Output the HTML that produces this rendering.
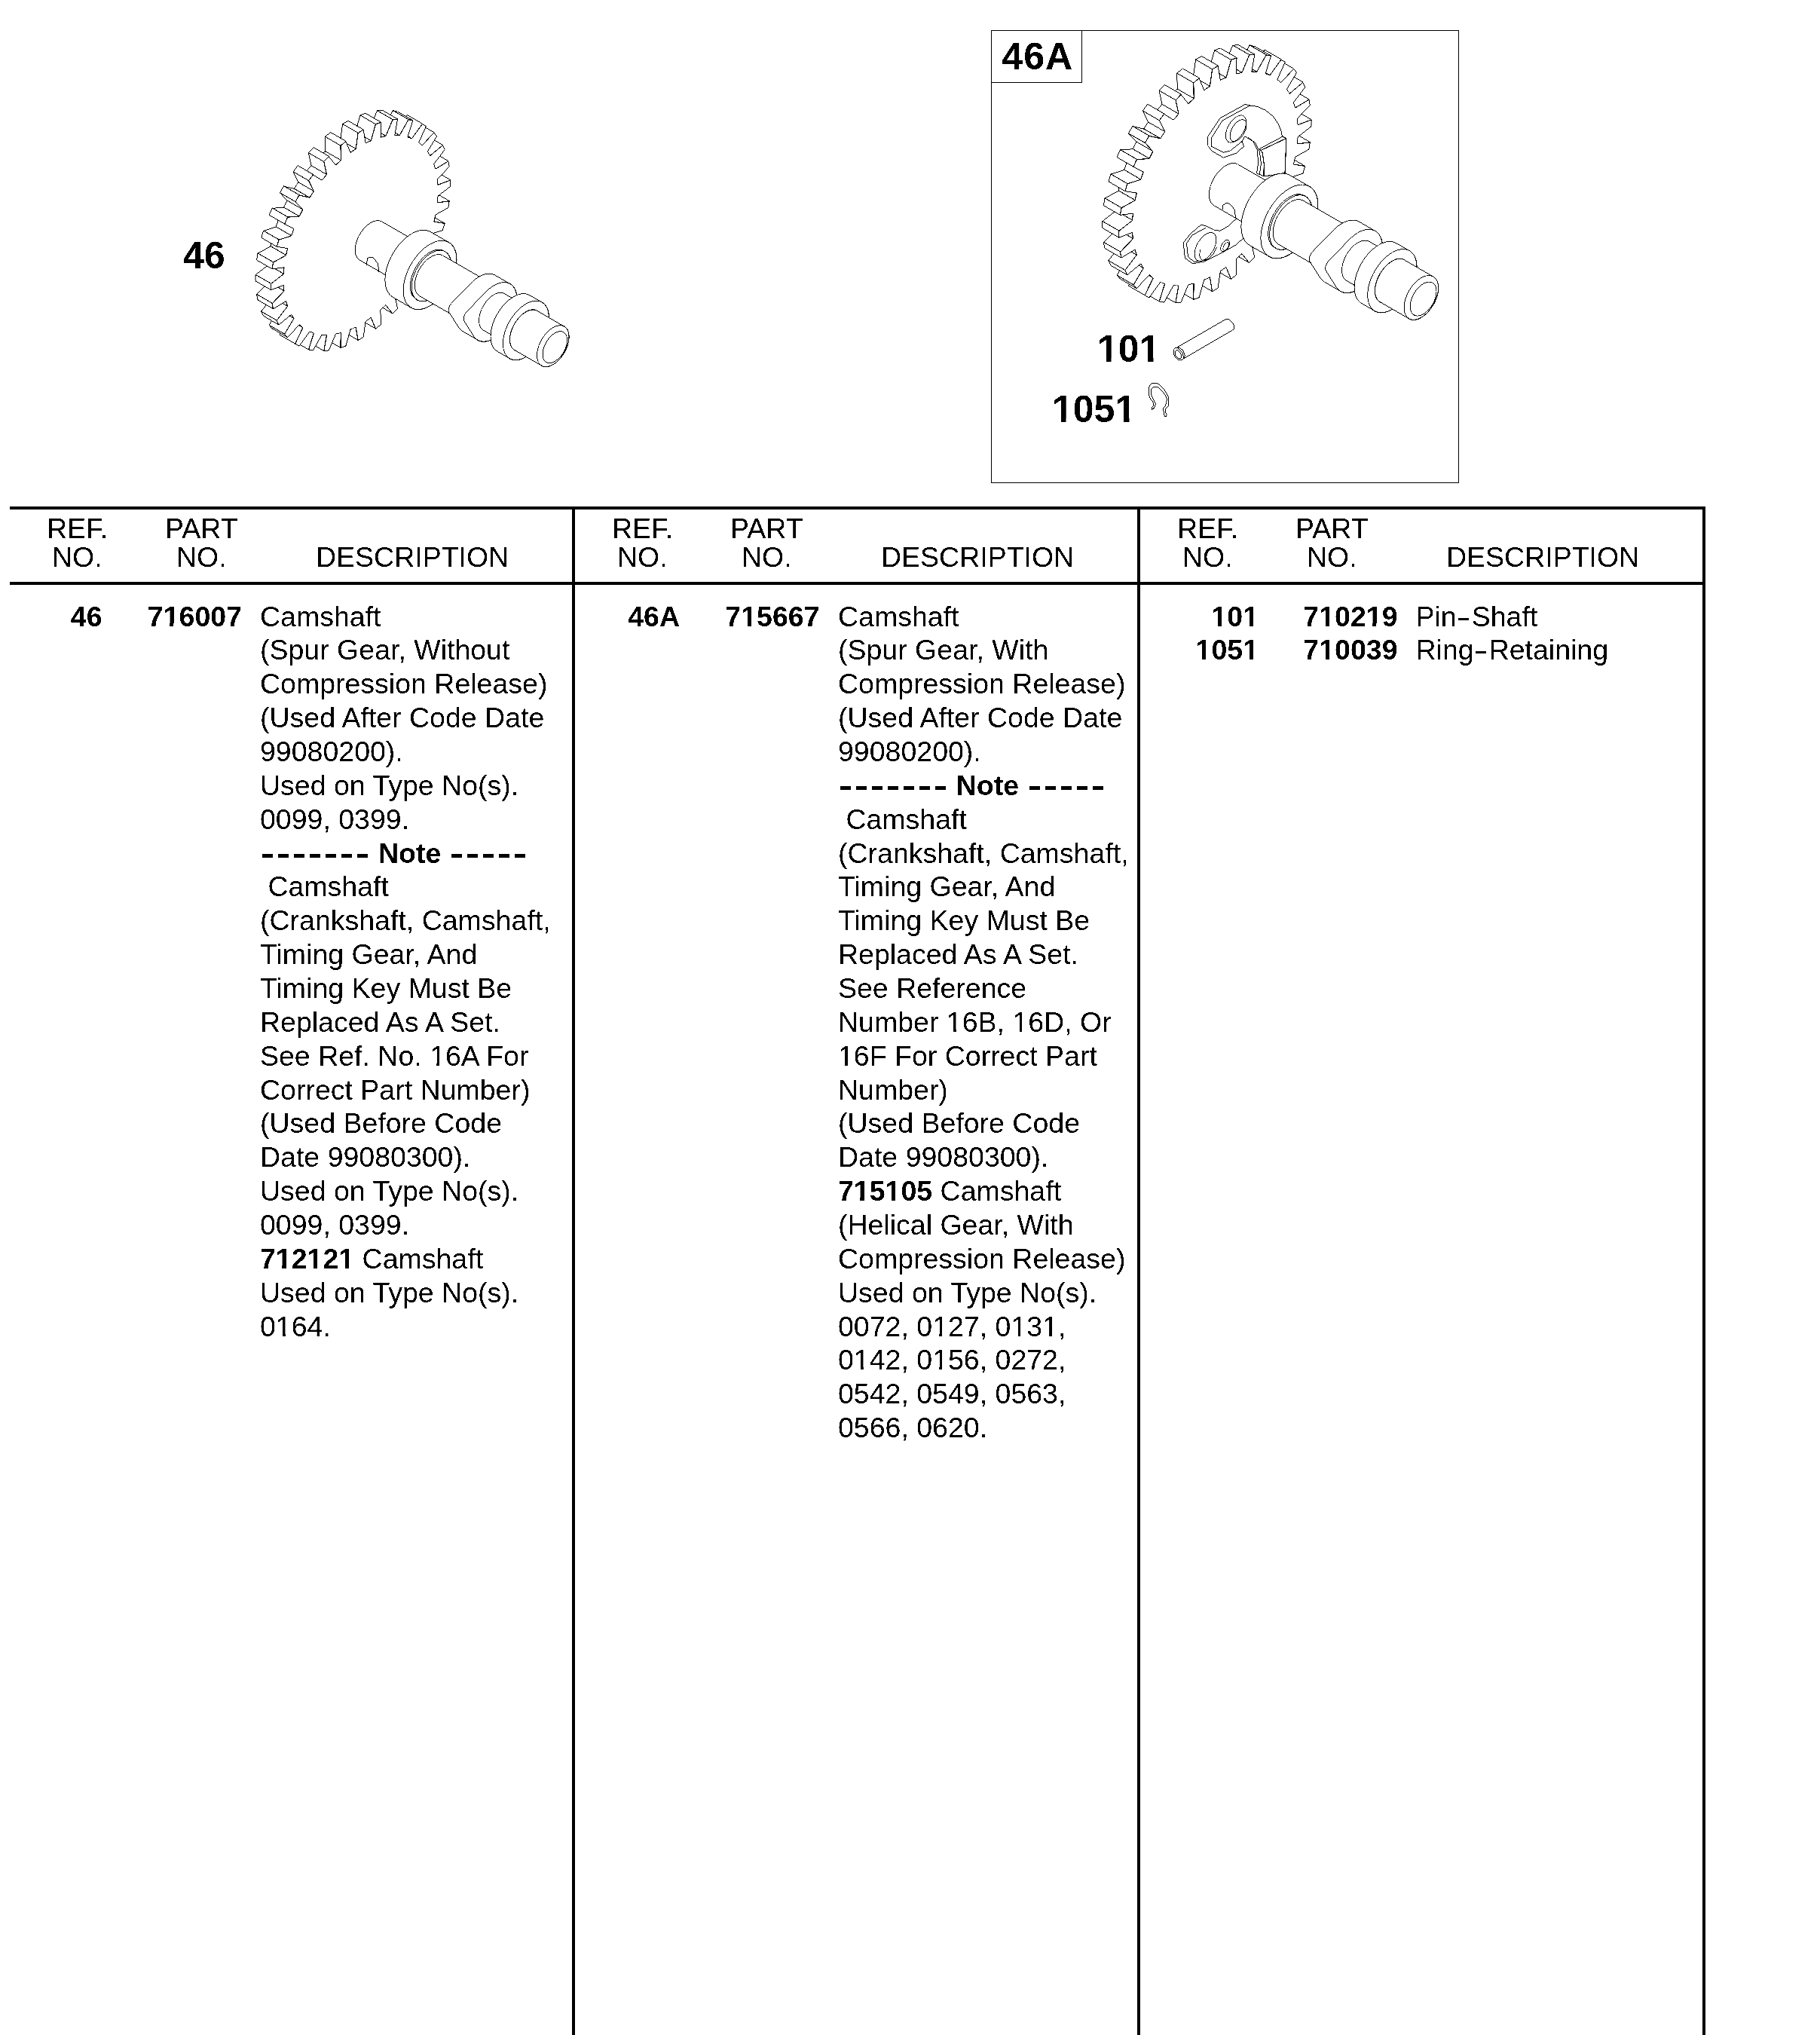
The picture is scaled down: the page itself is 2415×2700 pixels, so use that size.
<!DOCTYPE html><html><head><meta charset="utf-8"><style>
html,body{margin:0;padding:0;background:#fff;}
body{width:2415px;height:2700px;position:relative;overflow:hidden;filter:contrast(8);font-family:"Liberation Sans",sans-serif;color:#000;}
.t{position:absolute;white-space:pre;line-height:50px;height:50px;}
.r{text-align:right;}
.b{font-weight:bold;}
.k{position:absolute;background:#000;}
.o{position:relative;}
.o::after{content:"";position:absolute;left:0.055em;bottom:0.2em;width:0.193em;height:0.09em;background:#fff;box-shadow:0.288em 0 0 #fff;}
b .o::after,.b .o::after{left:0.045em;width:0.185em;height:0.12em;box-shadow:0.33em 0 0 #fff;}
</style></head><body>

<div class="t" style="left:345.00px;top:792.50px;font-size:37.5px">Camshaft</div>
<div class="t" style="left:345.00px;top:837.36px;font-size:37.5px">(Spur Gear, Without</div>
<div class="t" style="left:345.00px;top:882.21px;font-size:37.5px">Compression Release)</div>
<div class="t" style="left:345.00px;top:927.07px;font-size:37.5px">(Used After Code Date</div>
<div class="t" style="left:345.00px;top:971.93px;font-size:37.5px">99080200).</div>
<div class="t" style="left:345.00px;top:1016.79px;font-size:37.5px">Used on Type No(s).</div>
<div class="t" style="left:345.00px;top:1061.64px;font-size:37.5px">0099, 0399.</div>
<div class="t b" style="left:502.00px;top:1106.50px;font-size:37.5px">Note</div>
<div class="t" style="left:345.00px;top:1151.36px;font-size:37.5px">&nbsp;Camshaft</div>
<div class="t" style="left:345.00px;top:1196.21px;font-size:37.5px">(Crankshaft, Camshaft,</div>
<div class="t" style="left:345.00px;top:1241.07px;font-size:37.5px">Timing Gear, And</div>
<div class="t" style="left:345.00px;top:1285.93px;font-size:37.5px">Timing Key Must Be</div>
<div class="t" style="left:345.00px;top:1330.78px;font-size:37.5px">Replaced As A Set.</div>
<div class="t" style="left:345.00px;top:1375.64px;font-size:37.5px">See Ref. No. <span class="o">1</span>6A For</div>
<div class="t" style="left:345.00px;top:1420.50px;font-size:37.5px">Correct Part Number)</div>
<div class="t" style="left:345.00px;top:1465.36px;font-size:37.5px">(Used Before Code</div>
<div class="t" style="left:345.00px;top:1510.21px;font-size:37.5px">Date 99080300).</div>
<div class="t" style="left:345.00px;top:1555.07px;font-size:37.5px">Used on Type No(s).</div>
<div class="t" style="left:345.00px;top:1599.93px;font-size:37.5px">0099, 0399.</div>
<div class="t" style="left:345.00px;top:1644.78px;font-size:37.5px"><b>7<span class="o">1</span>2<span class="o">1</span>2<span class="o">1</span></b> Camshaft</div>
<div class="t" style="left:345.00px;top:1689.64px;font-size:37.5px">Used on Type No(s).</div>
<div class="t" style="left:345.00px;top:1734.50px;font-size:37.5px">0<span class="o">1</span>64.</div>
<div class="t b" style="right:2279.50px;top:792.50px;font-size:37.5px">46</div>
<div class="t b" style="right:2094.00px;top:792.50px;font-size:37.5px">7<span class="o">1</span>6007</div>
<div class="t" style="left:1112.00px;top:792.50px;font-size:37.5px">Camshaft</div>
<div class="t" style="left:1112.00px;top:837.36px;font-size:37.5px">(Spur Gear, With</div>
<div class="t" style="left:1112.00px;top:882.21px;font-size:37.5px">Compression Release)</div>
<div class="t" style="left:1112.00px;top:927.07px;font-size:37.5px">(Used After Code Date</div>
<div class="t" style="left:1112.00px;top:971.93px;font-size:37.5px">99080200).</div>
<div class="t b" style="left:1268.70px;top:1016.79px;font-size:37.5px">Note</div>
<div class="t" style="left:1112.00px;top:1061.64px;font-size:37.5px">&nbsp;Camshaft</div>
<div class="t" style="left:1112.00px;top:1106.50px;font-size:37.5px">(Crankshaft, Camshaft,</div>
<div class="t" style="left:1112.00px;top:1151.36px;font-size:37.5px">Timing Gear, And</div>
<div class="t" style="left:1112.00px;top:1196.21px;font-size:37.5px">Timing Key Must Be</div>
<div class="t" style="left:1112.00px;top:1241.07px;font-size:37.5px">Replaced As A Set.</div>
<div class="t" style="left:1112.00px;top:1285.93px;font-size:37.5px">See Reference</div>
<div class="t" style="left:1112.00px;top:1330.78px;font-size:37.5px">Number <span class="o">1</span>6B, <span class="o">1</span>6D, Or</div>
<div class="t" style="left:1112.00px;top:1375.64px;font-size:37.5px"><span class="o">1</span>6F For Correct Part</div>
<div class="t" style="left:1112.00px;top:1420.50px;font-size:37.5px">Number)</div>
<div class="t" style="left:1112.00px;top:1465.36px;font-size:37.5px">(Used Before Code</div>
<div class="t" style="left:1112.00px;top:1510.21px;font-size:37.5px">Date 99080300).</div>
<div class="t" style="left:1112.00px;top:1555.07px;font-size:37.5px"><b>7<span class="o">1</span>5<span class="o">1</span>05</b> Camshaft</div>
<div class="t" style="left:1112.00px;top:1599.93px;font-size:37.5px">(Helical Gear, With</div>
<div class="t" style="left:1112.00px;top:1644.78px;font-size:37.5px">Compression Release)</div>
<div class="t" style="left:1112.00px;top:1689.64px;font-size:37.5px">Used on Type No(s).</div>
<div class="t" style="left:1112.00px;top:1734.50px;font-size:37.5px">0072, 0<span class="o">1</span>27, 0<span class="o">1</span>3<span class="o">1</span>,</div>
<div class="t" style="left:1112.00px;top:1779.35px;font-size:37.5px">0<span class="o">1</span>42, 0<span class="o">1</span>56, 0272,</div>
<div class="t" style="left:1112.00px;top:1824.21px;font-size:37.5px">0542, 0549, 0563,</div>
<div class="t" style="left:1112.00px;top:1869.07px;font-size:37.5px">0566, 0620.</div>
<div class="t b" style="right:1513.00px;top:792.50px;font-size:37.5px">46A</div>
<div class="t b" style="right:1327.50px;top:792.50px;font-size:37.5px">7<span class="o">1</span>5667</div>
<div class="t" style="left:1878.50px;top:792.50px;font-size:37.5px">Pin<span style="display:inline-block;width:14px;height:3px;background:#000;margin:0 3.5px 0 2.5px;vertical-align:8px"></span>Shaft</div>
<div class="t" style="left:1878.50px;top:837.36px;font-size:37.5px">Ring<span style="display:inline-block;width:14px;height:3px;background:#000;margin:0 3.5px 0 2.5px;vertical-align:8px"></span>Retaining</div>
<div class="t b" style="right:745.00px;top:792.50px;font-size:37.5px"><span class="o">1</span>0<span class="o">1</span></div>
<div class="t b" style="right:560.50px;top:792.50px;font-size:37.5px">7<span class="o">1</span>02<span class="o">1</span>9</div>
<div class="t b" style="right:745.00px;top:837.36px;font-size:37.5px"><span class="o">1</span>05<span class="o">1</span></div>
<div class="t b" style="right:560.50px;top:837.36px;font-size:37.5px">7<span class="o">1</span>0039</div>
<div class="t" style="left:62.00px;top:675.50px;font-size:37.5px">REF.</div>
<div class="t" style="left:69.00px;top:713.50px;font-size:37.5px">NO.</div>
<div class="t" style="left:219.00px;top:675.50px;font-size:37.5px">PART</div>
<div class="t" style="left:234.00px;top:713.50px;font-size:37.5px">NO.</div>
<div class="t" style="left:419.00px;top:713.50px;font-size:37.5px">DESCRIPTION</div>
<div class="t" style="left:812.00px;top:675.50px;font-size:37.5px">REF.</div>
<div class="t" style="left:819.00px;top:713.50px;font-size:37.5px">NO.</div>
<div class="t" style="left:969.00px;top:675.50px;font-size:37.5px">PART</div>
<div class="t" style="left:984.00px;top:713.50px;font-size:37.5px">NO.</div>
<div class="t" style="left:1169.00px;top:713.50px;font-size:37.5px">DESCRIPTION</div>
<div class="t" style="left:1562.00px;top:675.50px;font-size:37.5px">REF.</div>
<div class="t" style="left:1569.00px;top:713.50px;font-size:37.5px">NO.</div>
<div class="t" style="left:1719.00px;top:675.50px;font-size:37.5px">PART</div>
<div class="t" style="left:1734.00px;top:713.50px;font-size:37.5px">NO.</div>
<div class="t" style="left:1919.00px;top:713.50px;font-size:37.5px">DESCRIPTION</div>
<div class="k" style="left:348.0px;top:1133.0px;width:14px;height:5px"></div>
<div class="k" style="left:369.0px;top:1133.0px;width:14px;height:5px"></div>
<div class="k" style="left:390.0px;top:1133.0px;width:14px;height:5px"></div>
<div class="k" style="left:411.0px;top:1133.0px;width:14px;height:5px"></div>
<div class="k" style="left:432.0px;top:1133.0px;width:14px;height:5px"></div>
<div class="k" style="left:453.0px;top:1133.0px;width:14px;height:5px"></div>
<div class="k" style="left:474.0px;top:1133.0px;width:14px;height:5px"></div>
<div class="k" style="left:599.0px;top:1133.0px;width:14px;height:5px"></div>
<div class="k" style="left:620.0px;top:1133.0px;width:14px;height:5px"></div>
<div class="k" style="left:641.0px;top:1133.0px;width:14px;height:5px"></div>
<div class="k" style="left:662.0px;top:1133.0px;width:14px;height:5px"></div>
<div class="k" style="left:683.0px;top:1133.0px;width:14px;height:5px"></div>
<div class="k" style="left:1115.0px;top:1043.3px;width:14px;height:5px"></div>
<div class="k" style="left:1136.0px;top:1043.3px;width:14px;height:5px"></div>
<div class="k" style="left:1157.0px;top:1043.3px;width:14px;height:5px"></div>
<div class="k" style="left:1178.0px;top:1043.3px;width:14px;height:5px"></div>
<div class="k" style="left:1199.0px;top:1043.3px;width:14px;height:5px"></div>
<div class="k" style="left:1220.0px;top:1043.3px;width:14px;height:5px"></div>
<div class="k" style="left:1241.0px;top:1043.3px;width:14px;height:5px"></div>
<div class="k" style="left:1365.7px;top:1043.3px;width:14px;height:5px"></div>
<div class="k" style="left:1386.7px;top:1043.3px;width:14px;height:5px"></div>
<div class="k" style="left:1407.7px;top:1043.3px;width:14px;height:5px"></div>
<div class="k" style="left:1428.7px;top:1043.3px;width:14px;height:5px"></div>
<div class="k" style="left:1449.7px;top:1043.3px;width:14px;height:5px"></div>
<div class="k" style="left:13px;top:672px;width:2250px;height:4px"></div>
<div class="k" style="left:13px;top:772px;width:2250px;height:4px"></div>
<div class="k" style="left:759px;top:672px;width:4px;height:2028px"></div>
<div class="k" style="left:1509px;top:672px;width:4px;height:2028px"></div>
<div class="k" style="left:2259px;top:672px;width:4px;height:2028px"></div>
<div style="position:absolute;left:1315px;top:40px;width:621px;height:601px;border:1px solid #000;box-sizing:border-box"></div>
<div style="position:absolute;left:1315px;top:40px;width:121px;height:70px;border:1px solid #000;box-sizing:border-box"></div>
<svg style="position:absolute;left:0;top:0" width="2415" height="700" viewBox="0 0 2415 700"><g fill="#fff" stroke="#000" stroke-width="1.0" stroke-linejoin="round" stroke-linecap="round"><polygon points="530.2,384.5 541.9,391.9 521.3,380.0 509.5,372.6" fill="#fff"/><polygon points="579.6,326.6 567.3,320.2 546.7,308.3 559.0,314.7" fill="#fff"/><polygon points="511.9,404.7 521.0,416.0 500.4,404.1 491.3,392.8" fill="#fff"/><polygon points="590.0,296.5 575.7,294.2 555.1,282.3 569.4,284.6" fill="#fff"/><polygon points="596.2,266.9 580.3,269.0 559.7,257.1 575.5,255.0" fill="#fff"/><polygon points="492.3,421.3 498.5,436.1 477.8,424.2 471.7,409.4" fill="#fff"/><polygon points="472.2,433.8 475.2,451.4 454.5,439.5 451.6,421.9" fill="#fff"/><polygon points="597.8,239.1 581.0,245.4 560.4,233.5 577.1,227.2" fill="#fff"/><polygon points="452.4,441.5 452.0,461.4 431.4,449.5 431.8,429.6" fill="#fff"/><polygon points="594.8,214.0 577.8,224.3 557.2,212.4 574.2,202.1" fill="#fff"/><polygon points="433.6,444.3 429.9,465.6 409.3,453.7 413.0,432.4" fill="#fff"/><polygon points="587.4,192.8 570.8,206.6 550.1,194.7 566.8,180.9" fill="#fff"/><polygon points="575.8,176.1 560.2,193.0 539.6,181.1 555.2,164.2" fill="#fff"/><polygon points="416.5,441.9 409.6,463.9 389.0,452.0 395.9,430.0" fill="#fff"/><polygon points="560.4,164.6 546.5,183.9 525.9,172.0 539.8,152.7" fill="#fff"/><polygon points="401.8,434.6 392.0,456.3 371.4,444.4 381.2,422.7" fill="#fff"/><polygon points="546.5,183.9 544.7,183.2 542.8,182.5 540.9,181.9 520.3,170.0 522.2,170.6 524.1,171.3 525.9,172.0" fill="#fff"/><polygon points="397.2,430.8 398.7,432.1 400.2,433.4 401.8,434.6 381.2,422.7 379.6,421.5 378.1,420.2 376.6,418.9" fill="#fff"/><polygon points="547.8,159.9 542.0,158.8 521.3,146.9 527.2,148.0" fill="#fff"/><polygon points="377.7,443.2 381.6,447.7 361.0,435.8 357.1,431.3" fill="#fff"/><polygon points="542.0,158.8 530.2,179.8 509.6,167.9 521.3,146.9" fill="#fff"/><polygon points="390.1,422.6 377.7,443.2 357.1,431.3 369.4,410.7" fill="#fff"/><polygon points="530.2,179.8 528.1,179.6 526.0,179.6 523.8,179.5 503.2,167.6 505.4,167.7 507.5,167.7 509.6,167.9" fill="#fff"/><polygon points="386.6,417.2 387.7,419.0 388.9,420.8 390.1,422.6 369.4,410.7 368.3,408.9 367.1,407.1 366.0,405.3" fill="#fff"/><polygon points="527.5,158.2 521.1,158.9 500.4,147.0 506.9,146.3" fill="#fff"/><polygon points="367.3,425.1 370.0,431.0 349.4,419.1 346.7,413.2" fill="#fff"/><polygon points="381.7,406.3 367.3,425.1 346.7,413.2 361.1,394.4" fill="#fff"/><polygon points="521.1,158.9 511.9,180.7 491.3,168.8 500.4,147.0" fill="#fff"/><polygon points="511.9,180.7 509.6,181.2 507.3,181.7 505.0,182.3 484.4,170.4 486.7,169.8 489.0,169.3 491.3,168.8" fill="#fff"/><polygon points="379.6,399.5 380.3,401.8 381.0,404.1 381.7,406.3 361.1,394.4 360.4,392.2 359.7,389.9 359.0,387.6" fill="#fff"/><polygon points="492.4,186.7 490.0,187.7 487.6,188.9 485.2,190.0 464.6,178.1 467.0,177.0 469.4,175.8 471.8,174.8" fill="#fff"/><polygon points="376.4,378.4 376.6,381.1 376.8,383.7 377.1,386.3 356.5,374.4 356.2,371.8 356.0,369.2 355.8,366.5" fill="#fff"/><polygon points="498.5,164.8 492.4,186.7 471.8,174.8 477.9,152.9" fill="#fff"/><polygon points="377.1,386.3 361.2,402.6 340.6,390.7 356.5,374.4" fill="#fff"/><polygon points="505.4,162.4 498.5,164.8 477.9,152.9 484.8,150.5" fill="#fff"/><polygon points="361.2,402.6 362.6,409.8 342.0,397.9 340.6,390.7" fill="#fff"/><polygon points="472.3,197.5 469.9,199.1 467.5,200.7 465.1,202.5 444.5,190.6 446.9,188.8 449.3,187.2 451.7,185.6" fill="#fff"/><polygon points="377.1,354.8 376.8,357.8 376.6,360.7 376.4,363.6 355.8,351.7 356.0,348.8 356.2,345.9 356.5,342.9" fill="#fff"/><polygon points="475.2,176.4 472.3,197.5 451.7,185.6 454.6,164.5" fill="#fff"/><polygon points="376.4,363.6 359.6,376.6 339.0,364.7 355.8,351.7" fill="#fff"/><polygon points="482.2,172.4 475.2,176.4 454.6,164.5 461.6,160.5" fill="#fff"/><polygon points="359.6,376.6 359.6,384.7 339.0,372.8 339.0,364.7" fill="#fff"/><polygon points="452.5,212.7 450.1,214.7 447.8,216.9 445.5,219.1 424.9,207.2 427.2,205.0 429.5,202.8 431.8,200.8" fill="#fff"/><polygon points="381.7,329.6 381.0,332.7 380.3,335.7 379.6,338.8 359.0,326.9 359.7,323.8 360.4,320.8 361.1,317.7" fill="#fff"/><polygon points="452.1,193.2 452.5,212.7 431.8,200.8 431.5,181.3" fill="#fff"/><polygon points="379.6,338.8 362.6,348.2 342.0,336.3 359.0,326.9" fill="#fff"/><polygon points="433.6,231.6 431.5,234.1 429.3,236.7 427.2,239.3 406.6,227.4 408.7,224.8 410.9,222.2 413.0,219.7" fill="#fff"/><polygon points="390.1,303.6 388.9,306.8 387.8,309.9 386.7,313.0 366.1,301.1 367.1,298.0 368.3,294.9 369.5,291.7" fill="#fff"/><polygon points="458.9,187.7 452.1,193.2 431.5,181.3 438.3,175.8" fill="#fff"/><polygon points="362.6,348.2 361.2,356.9 340.6,345.0 342.0,336.3" fill="#fff"/><polygon points="416.5,253.7 414.6,256.5 412.8,259.4 410.9,262.3 390.3,250.4 392.2,247.5 394.0,244.6 395.9,241.8" fill="#fff"/><polygon points="401.8,278.0 400.3,281.1 398.7,284.1 397.2,287.2 376.6,275.3 378.1,272.2 379.6,269.2 381.2,266.1" fill="#fff"/><polygon points="429.9,214.6 433.6,231.6 413.0,219.7 409.3,202.7" fill="#fff"/><polygon points="386.7,313.0 370.1,318.3 349.4,306.4 366.1,301.1" fill="#fff"/><polygon points="409.7,239.7 416.5,253.7 395.9,241.8 389.1,227.8" fill="#fff"/><polygon points="397.2,287.2 381.7,288.2 361.1,276.3 376.6,275.3" fill="#fff"/><polygon points="436.4,207.8 429.9,214.6 409.3,202.7 415.8,195.9" fill="#fff"/><polygon points="370.1,318.3 367.4,327.3 346.8,315.4 349.4,306.4" fill="#fff"/><polygon points="410.9,262.3 397.0,259.0 376.4,247.1 390.3,250.4" fill="#fff"/><polygon points="392.1,267.6 401.8,278.0 381.2,266.1 371.4,255.7" fill="#fff"/><polygon points="415.5,231.9 409.7,239.7 389.1,227.8 394.9,220.0" fill="#fff"/><polygon points="381.7,288.2 377.8,297.2 357.2,285.3 361.1,276.3" fill="#fff"/><polygon points="397.0,259.0 392.1,267.6 371.4,255.7 376.4,247.1" fill="#fff"/><polygon points="392.0,456.3 397.0,459.2 410.9,439.9 412.7,440.6 414.6,441.3 416.5,441.9 409.6,463.9 415.4,465.0 427.2,444.0 429.3,444.2 431.4,444.2 433.6,444.3 429.9,465.6 436.3,464.9 445.5,443.1 447.8,442.6 450.1,442.1 452.4,441.5 452.0,461.4 458.9,459.0 465.0,437.1 467.4,436.1 469.8,434.9 472.2,433.8 475.2,451.4 482.2,447.4 485.1,426.3 487.5,424.7 489.9,423.1 492.3,421.3 498.5,436.1 505.3,430.6 504.9,411.1 507.3,409.1 509.6,406.9 511.9,404.7 521.0,416.0 527.5,409.2 523.8,392.2 525.9,389.7 528.1,387.1 530.2,384.5 541.9,391.9 547.7,384.1 540.9,370.1 542.8,367.3 544.6,364.4 546.5,361.5 560.4,364.8 565.3,356.2 555.6,345.8 557.1,342.7 558.7,339.7 560.2,336.6 575.7,335.6 579.6,326.6 567.3,320.2 568.5,317.0 569.6,313.9 570.7,310.8 587.3,305.5 590.0,296.5 575.7,294.2 576.4,291.1 577.1,288.1 577.8,285.0 594.8,275.6 596.2,266.9 580.3,269.0 580.6,266.0 580.8,263.1 581.0,260.2 597.8,247.2 597.8,239.1 581.0,245.4 580.8,242.7 580.6,240.1 580.3,237.5 596.2,221.2 594.8,214.0 577.8,224.3 577.1,222.0 576.4,219.7 575.7,217.5 590.1,198.7 587.4,192.8 570.8,206.6 569.7,204.8 568.5,203.0 567.3,201.2 579.7,180.6 575.8,176.1 560.2,193.0 558.7,191.7 557.2,190.4 555.6,189.2 565.4,167.5 560.4,164.6 546.5,183.9 544.7,183.2 542.8,182.5 540.9,181.9 547.8,159.9 542.0,158.8 530.2,179.8 528.1,179.6 526.0,179.6 523.8,179.5 527.5,158.2 521.1,158.9 511.9,180.7 509.6,181.2 507.3,181.7 505.0,182.3 505.4,162.4 498.5,164.8 492.4,186.7 490.0,187.7 487.6,188.9 485.2,190.0 482.2,172.4 475.2,176.4 472.3,197.5 469.9,199.1 467.5,200.7 465.1,202.5 458.9,187.7 452.1,193.2 452.5,212.7 450.1,214.7 447.8,216.9 445.5,219.1 436.4,207.8 429.9,214.6 433.6,231.6 431.5,234.1 429.3,236.7 427.2,239.3 415.5,231.9 409.7,239.7 416.5,253.7 414.6,256.5 412.8,259.4 410.9,262.3 397.0,259.0 392.1,267.6 401.8,278.0 400.3,281.1 398.7,284.1 397.2,287.2 381.7,288.2 377.8,297.2 390.1,303.6 388.9,306.8 387.8,309.9 386.7,313.0 370.1,318.3 367.4,327.3 381.7,329.6 381.0,332.7 380.3,335.7 379.6,338.8 362.6,348.2 361.2,356.9 377.1,354.8 376.8,357.8 376.6,360.7 376.4,363.6 359.6,376.6 359.6,384.7 376.4,378.4 376.6,381.1 376.8,383.7 377.1,386.3 361.2,402.6 362.6,409.8 379.6,399.5 380.3,401.8 381.0,404.1 381.7,406.3 367.3,425.1 370.0,431.0 386.6,417.2 387.7,419.0 388.9,420.8 390.1,422.6 377.7,443.2 381.6,447.7 397.2,430.8 398.7,432.1 400.2,433.4 401.8,434.6" fill="#fff"/><polygon points="477.3,345.1 475.9,344.2 474.7,343.0 473.6,341.6 472.8,339.9 472.1,338.1 471.6,336.1 471.3,333.9 471.2,331.6 471.3,329.2 471.6,326.7 472.1,324.1 472.8,321.5 473.6,318.9 474.7,316.2 475.9,313.6 477.3,311.1 478.8,308.6 480.5,306.3 482.2,304.0 484.1,302.0 486.0,300.1 488.0,298.3 490.0,296.8 492.0,295.5 494.1,294.5 496.1,293.6 498.1,293.1 500.0,292.7 501.9,292.7 503.6,292.9 505.3,293.3 506.8,294.1 561.0,325.4 562.4,326.3 563.6,327.5 564.6,328.9 565.5,330.6 566.2,332.4 566.7,334.4 567.0,336.6 567.1,338.9 567.0,341.3 566.7,343.8 566.2,346.4 565.5,349.0 564.6,351.6 563.6,354.3 562.4,356.9 561.0,359.4 559.5,361.9 557.8,364.2 556.1,366.5 554.2,368.5 552.3,370.4 550.3,372.2 548.3,373.7 546.2,375.0 544.2,376.0 542.2,376.9 540.2,377.4 538.3,377.8 536.4,377.8 534.7,377.6 533.0,377.2 531.5,376.4" fill="#fff"/><polygon points="531.5,376.4 533.0,377.2 534.7,377.6 536.4,377.8 538.3,377.8 540.2,377.4 542.2,376.9 544.2,376.0 546.2,375.0 548.3,373.7 550.3,372.2 552.3,370.4 554.2,368.5 556.1,366.5 557.8,364.2 559.5,361.9 561.0,359.4 562.4,356.9 563.6,354.3 564.6,351.6 565.5,349.0 566.2,346.4 566.7,343.8 567.0,341.3 567.1,338.9 567.0,336.6 566.7,334.4 566.2,332.4 565.5,330.6 564.6,328.9 563.6,327.5 562.4,326.3 561.0,325.4 559.5,324.6 557.8,324.2 556.1,324.0 554.2,324.0 552.3,324.4 550.3,324.9 548.3,325.8 546.3,326.8 544.2,328.1 542.2,329.6 540.2,331.4 538.3,333.3 536.4,335.3 534.7,337.6 533.0,339.9 531.5,342.4 530.1,344.9 528.9,347.5 527.9,350.2 527.0,352.8 526.3,355.4 525.8,358.0 525.5,360.5 525.4,362.9 525.5,365.2 525.8,367.4 526.3,369.4 527.0,371.2 527.9,372.9 528.9,374.3 530.1,375.5 531.5,376.4" fill="#fff"/><polyline fill="none" points="486.4,351.4 487.5,342.6 491.9,341.0 495.2,341.5 501.8,350.3 502.3,360.2"/><polygon points="521.2,394.2 518.9,392.6 516.9,390.6 515.1,388.1 513.6,385.4 512.4,382.3 511.6,378.9 511.1,375.2 510.9,371.3 511.1,367.2 511.6,363.0 512.4,358.6 513.6,354.1 515.1,349.7 516.9,345.2 518.9,340.8 521.3,336.5 523.8,332.3 526.6,328.3 529.6,324.5 532.7,321.0 536.0,317.8 539.4,314.8 542.8,312.3 546.3,310.1 549.7,308.3 553.2,306.9 556.5,305.9 559.8,305.4 562.9,305.3 565.9,305.6 568.7,306.4 571.2,307.6 595.5,321.6 597.8,323.2 599.9,325.2 601.7,327.7 603.2,330.4 604.3,333.5 605.2,336.9 605.7,340.6 605.8,344.5 605.7,348.6 605.2,352.8 604.3,357.2 603.1,361.7 601.7,366.1 599.9,370.6 597.8,375.0 595.5,379.3 592.9,383.5 590.1,387.5 587.2,391.3 584.0,394.8 580.7,398.0 577.4,401.0 574.0,403.5 570.5,405.7 567.0,407.5 563.6,408.9 560.2,409.9 557.0,410.4 553.8,410.5 550.9,410.2 548.1,409.4 545.5,408.2" fill="#fff"/><polygon points="545.5,408.2 548.1,409.4 550.9,410.2 553.8,410.5 557.0,410.4 560.2,409.9 563.6,408.9 567.0,407.5 570.5,405.7 574.0,403.5 577.4,401.0 580.7,398.0 584.0,394.8 587.2,391.3 590.1,387.5 592.9,383.5 595.5,379.3 597.8,375.0 599.9,370.6 601.7,366.1 603.1,361.7 604.3,357.2 605.2,352.8 605.7,348.6 605.8,344.5 605.7,340.6 605.2,336.9 604.3,333.5 603.2,330.4 601.7,327.7 599.9,325.2 597.8,323.2 595.5,321.6 592.9,320.4 590.1,319.6 587.2,319.3 584.0,319.4 580.8,319.9 577.4,320.9 574.0,322.3 570.5,324.1 567.0,326.3 563.6,328.8 560.2,331.8 557.0,335.0 553.8,338.5 550.9,342.3 548.1,346.3 545.5,350.5 543.2,354.8 541.1,359.2 539.3,363.7 537.8,368.1 536.7,372.6 535.8,377.0 535.3,381.2 535.2,385.3 535.3,389.2 535.8,392.9 536.7,396.3 537.8,399.4 539.3,402.1 541.1,404.6 543.2,406.6 545.5,408.2" fill="#fff"/><polygon points="552.0,396.9 550.3,395.7 548.7,394.2 547.4,392.5 546.3,390.4 545.5,388.1 544.8,385.6 544.5,382.9 544.3,380.0 544.5,377.0 544.8,373.8 545.5,370.6 546.3,367.3 547.4,364.0 548.8,360.7 550.3,357.4 552.0,354.2 553.9,351.1 556.0,348.2 558.2,345.4 560.5,342.8 562.9,340.4 565.4,338.2 567.9,336.3 570.5,334.7 573.1,333.4 575.6,332.3 578.1,331.6 580.5,331.2 582.8,331.1 585.0,331.4 587.1,332.0 589.0,332.9 590.7,333.9 592.5,335.1 594.0,336.6 595.3,338.3 596.4,340.4 597.3,342.7 597.9,345.2 598.3,347.9 598.4,350.8 598.3,353.8 597.9,357.0 597.3,360.2 596.4,363.5 595.3,366.8 594.0,370.1 592.4,373.4 590.7,376.6 588.8,379.7 586.8,382.6 584.6,385.4 582.2,388.0 579.8,390.4 577.3,392.6 574.8,394.5 572.2,396.1 569.7,397.4 567.1,398.5 564.6,399.2 562.2,399.6 559.9,399.7 557.7,399.4 555.6,398.8 553.7,397.9" fill="#fff"/><polygon points="553.7,397.9 555.6,398.8 557.7,399.4 559.9,399.7 562.2,399.6 564.6,399.2 567.1,398.5 569.7,397.4 572.2,396.1 574.8,394.5 577.3,392.6 579.8,390.4 582.2,388.0 584.6,385.4 586.8,382.6 588.8,379.7 590.7,376.6 592.4,373.4 594.0,370.1 595.3,366.8 596.4,363.5 597.3,360.2 597.9,357.0 598.3,353.8 598.4,350.8 598.3,347.9 597.9,345.2 597.3,342.7 596.4,340.4 595.3,338.3 594.0,336.6 592.5,335.1 590.7,333.9 588.8,333.0 586.8,332.4 584.6,332.1 582.2,332.2 579.8,332.6 577.3,333.3 574.8,334.4 572.2,335.7 569.7,337.3 567.1,339.2 564.6,341.4 562.2,343.8 559.9,346.4 557.7,349.2 555.6,352.1 553.7,355.2 552.0,358.4 550.5,361.7 549.2,365.0 548.1,368.3 547.2,371.6 546.6,374.8 546.2,378.0 546.1,381.0 546.2,383.9 546.6,386.6 547.2,389.1 548.1,391.4 549.2,393.5 550.5,395.2 552.0,396.7 553.7,397.9" fill="#fff"/><polygon points="556.7,392.7 555.3,391.7 554.0,390.5 552.9,389.0 552.0,387.3 551.3,385.4 550.7,383.3 550.4,381.0 550.3,378.6 550.4,376.0 550.7,373.4 551.3,370.7 552.0,367.9 552.9,365.1 554.0,362.4 555.3,359.6 556.7,357.0 558.3,354.4 560.1,351.9 561.9,349.5 563.9,347.4 565.9,345.4 568.0,343.5 570.1,342.0 572.2,340.6 574.4,339.5 576.5,338.6 578.6,338.0 580.6,337.7 582.6,337.6 584.4,337.8 586.1,338.3 587.7,339.1 651.0,375.6 652.4,376.6 653.7,377.8 654.8,379.3 655.7,381.0 656.4,382.9 656.9,385.0 657.3,387.3 657.4,389.7 657.3,392.3 656.9,394.9 656.4,397.6 655.7,400.4 654.8,403.2 653.7,405.9 652.4,408.7 650.9,411.3 649.3,413.9 647.6,416.4 645.8,418.8 643.8,420.9 641.8,422.9 639.7,424.8 637.6,426.3 635.4,427.7 633.3,428.8 631.2,429.7 629.1,430.3 627.1,430.6 625.1,430.7 623.3,430.5 621.5,430.0 620.0,429.2" fill="#fff"/><polygon points="620.0,429.2 621.5,430.0 623.3,430.5 625.1,430.7 627.1,430.6 629.1,430.3 631.2,429.7 633.3,428.8 635.4,427.7 637.6,426.3 639.7,424.8 641.8,422.9 643.8,420.9 645.8,418.8 647.6,416.4 649.3,413.9 650.9,411.3 652.4,408.7 653.7,405.9 654.8,403.2 655.7,400.4 656.4,397.6 656.9,394.9 657.3,392.3 657.4,389.7 657.3,387.3 656.9,385.0 656.4,382.9 655.7,381.0 654.8,379.3 653.7,377.8 652.4,376.6 651.0,375.6 649.4,374.8 647.6,374.3 645.8,374.1 643.8,374.2 641.8,374.5 639.7,375.1 637.6,376.0 635.5,377.1 633.3,378.5 631.2,380.0 629.1,381.9 627.1,383.9 625.1,386.0 623.3,388.4 621.6,390.9 620.0,393.5 618.5,396.1 617.2,398.9 616.1,401.6 615.2,404.4 614.5,407.2 614.0,409.9 613.6,412.5 613.5,415.1 613.6,417.5 614.0,419.8 614.5,421.9 615.2,423.8 616.1,425.5 617.2,427.0 618.5,428.2 620.0,429.2" fill="#fff"/><polygon points="595.2,410.8 595.4,409.4 595.8,408.0 596.4,406.5 597.1,405.1 597.9,403.8 598.9,402.6 625.1,375.4 627.6,373.0 630.2,370.9 632.8,369.0 635.5,367.3 638.1,365.9 640.7,364.8 643.3,363.9 645.9,363.4 648.3,363.2 650.7,363.2 652.9,363.6 655.0,364.2 657.0,365.2 676.9,376.7 678.7,377.9 680.3,379.4 681.7,381.1 682.9,383.1 683.9,385.4 684.7,387.9 685.3,390.5 685.6,393.4 685.8,396.3 685.6,399.5 685.3,402.7 684.7,406.0 683.9,409.4 682.9,412.8 681.7,416.2 680.3,419.6 678.6,423.0 676.9,426.3 674.9,429.5 672.8,432.6 670.6,435.5 668.2,438.3 665.8,440.9 663.2,443.3 660.6,445.4 658.0,447.3 655.4,449.0 652.7,450.4 650.1,451.5 647.5,452.4 645.0,452.9 642.5,453.1 640.2,453.1 637.9,452.7 635.8,452.1 633.9,451.1 614.0,439.6 612.2,438.4 610.5,436.9 609.1,435.2 595.8,414.2 595.4,413.2 595.2,412.0" fill="#fff"/><polygon points="676.9,376.7 674.9,375.7 672.8,375.1 670.6,374.7 668.2,374.7 665.8,374.9 663.2,375.4 660.7,376.3 658.0,377.4 655.4,378.8 652.7,380.5 650.1,382.4 647.5,384.5 645.0,386.9 618.8,414.1 617.8,415.3 617.0,416.6 616.3,418.0 615.7,419.5 615.4,420.9 615.2,422.3 615.2,423.5 615.3,424.7 615.7,425.7 629.0,446.7 630.5,448.4 632.1,449.9 633.9,451.1 635.8,452.1 637.9,452.7 640.2,453.1 642.5,453.1 645.0,452.9 647.5,452.4 650.1,451.5 652.7,450.4 655.4,449.0 658.0,447.3 660.6,445.4 663.2,443.3 665.8,440.9 668.2,438.3 670.6,435.5 672.8,432.6 674.9,429.5 676.9,426.3 678.6,423.0 680.3,419.7 681.7,416.2 682.9,412.8 683.9,409.4 684.7,406.0 685.3,402.7 685.6,399.5 685.8,396.3 685.7,393.3 685.3,390.5 684.7,387.9 683.9,385.4 682.9,383.1 681.7,381.1 680.3,379.4 678.7,377.9" fill="#fff"/><polygon points="641.4,438.1 640.1,437.2 638.9,436.1 637.9,434.8 637.1,433.2 636.4,431.5 636.0,429.6 635.7,427.5 635.6,425.3 635.7,423.0 636.0,420.7 636.4,418.2 637.1,415.7 637.9,413.2 638.9,410.7 640.1,408.2 641.4,405.8 642.8,403.5 644.4,401.2 646.0,399.1 647.8,397.2 649.6,395.3 651.5,393.7 653.4,392.3 655.4,391.0 657.3,390.0 659.2,389.3 661.1,388.7 662.9,388.4 664.7,388.4 666.4,388.5 667.9,389.0 669.4,389.7 695.3,404.7 696.7,405.6 697.8,406.7 698.8,408.0 699.6,409.6 700.3,411.3 700.8,413.2 701.0,415.3 701.1,417.5 701.0,419.8 700.8,422.1 700.3,424.6 699.6,427.1 698.8,429.6 697.8,432.1 696.6,434.6 695.3,437.0 693.9,439.3 692.3,441.6 690.7,443.7 688.9,445.6 687.1,447.5 685.2,449.1 683.3,450.5 681.3,451.8 679.4,452.8 677.5,453.5 675.6,454.1 673.8,454.4 672.0,454.4 670.3,454.3 668.8,453.8 667.3,453.1" fill="#fff"/><polygon points="667.3,453.1 668.8,453.8 670.3,454.3 672.0,454.4 673.8,454.4 675.6,454.1 677.5,453.5 679.4,452.8 681.3,451.8 683.3,450.5 685.2,449.1 687.1,447.5 688.9,445.6 690.7,443.7 692.3,441.6 693.9,439.3 695.3,437.0 696.6,434.6 697.8,432.1 698.8,429.6 699.6,427.1 700.3,424.6 700.8,422.1 701.0,419.8 701.1,417.5 701.0,415.3 700.8,413.2 700.3,411.3 699.6,409.6 698.8,408.0 697.8,406.7 696.7,405.6 695.3,404.7 693.9,404.0 692.4,403.5 690.7,403.4 688.9,403.4 687.1,403.7 685.2,404.3 683.3,405.0 681.4,406.0 679.4,407.3 677.5,408.7 675.6,410.3 673.8,412.2 672.0,414.1 670.4,416.2 668.8,418.5 667.4,420.8 666.1,423.2 664.9,425.7 663.9,428.2 663.1,430.7 662.4,433.2 661.9,435.7 661.7,438.0 661.6,440.3 661.7,442.5 661.9,444.6 662.4,446.5 663.1,448.2 663.9,449.8 664.9,451.1 666.0,452.2 667.3,453.1" fill="#fff"/><polygon points="659.8,466.1 657.8,464.7 656.1,463.0 654.5,460.9 653.3,458.6 652.3,455.9 651.5,453.0 651.1,449.8 651.0,446.5 651.1,442.9 651.5,439.3 652.3,435.5 653.3,431.7 654.5,427.8 656.1,424.0 657.9,420.2 659.9,416.5 662.1,412.9 664.5,409.5 667.0,406.2 669.7,403.2 672.5,400.4 675.4,397.9 678.4,395.7 681.4,393.8 684.3,392.2 687.3,391.0 690.2,390.2 693.0,389.7 695.7,389.7 698.2,390.0 700.6,390.6 702.8,391.7 719.3,401.2 721.3,402.6 723.1,404.3 724.6,406.4 725.9,408.7 726.9,411.4 727.6,414.3 728.1,417.5 728.2,420.8 728.1,424.4 727.6,428.0 726.9,431.8 725.9,435.6 724.6,439.5 723.1,443.3 721.3,447.1 719.3,450.8 717.1,454.4 714.7,457.8 712.1,461.1 709.4,464.1 706.6,466.9 703.7,469.4 700.8,471.6 697.8,473.5 694.8,475.1 691.9,476.3 689.0,477.1 686.2,477.6 683.5,477.6 680.9,477.3 678.5,476.7 676.3,475.6" fill="#fff"/><polygon points="676.3,475.6 678.5,476.7 680.9,477.3 683.5,477.6 686.2,477.6 689.0,477.1 691.9,476.3 694.8,475.1 697.8,473.5 700.8,471.6 703.7,469.4 706.6,466.9 709.4,464.1 712.1,461.1 714.7,457.8 717.1,454.4 719.3,450.8 721.3,447.1 723.1,443.3 724.6,439.5 725.9,435.6 726.9,431.8 727.6,428.0 728.1,424.4 728.2,420.8 728.1,417.5 727.6,414.3 726.9,411.4 725.9,408.7 724.6,406.4 723.1,404.3 721.3,402.6 719.3,401.2 717.1,400.1 714.7,399.5 712.1,399.2 709.4,399.2 706.6,399.7 703.7,400.5 700.8,401.7 697.8,403.3 694.8,405.2 691.9,407.4 689.0,409.9 686.2,412.7 683.5,415.7 680.9,419.0 678.5,422.4 676.3,426.0 674.3,429.7 672.5,433.5 671.0,437.3 669.7,441.2 668.7,445.0 668.0,448.8 667.6,452.4 667.4,456.0 667.6,459.3 668.0,462.5 668.7,465.4 669.7,468.1 671.0,470.4 672.5,472.5 674.3,474.2 676.3,475.6" fill="#fff"/><polyline points="682.8,464.4 684.3,465.1 686.0,465.6 687.8,465.8 689.7,465.7 691.6,465.4 693.7,464.8 695.7,464.0 697.8,462.9 699.9,461.6 701.9,460.0 704.0,458.3 705.9,456.3 707.8,454.2 709.6,452.0 711.3,449.6 712.8,447.1 714.2,444.5 715.4,441.8 716.5,439.1 717.4,436.5 718.1,433.8 718.6,431.2 718.9,428.6 719.0,426.1 718.9,423.8 718.6,421.6 718.1,419.6 717.4,417.7 716.5,416.1 715.4,414.6 714.2,413.4 712.8,412.4 711.3,411.7 709.6,411.2 707.8,411.0 705.9,411.1 704.0,411.4 701.9,412.0 699.9,412.8 697.8,413.9 695.7,415.2 693.7,416.8 691.7,418.5 689.7,420.5 687.8,422.6 686.0,424.8 684.4,427.2 682.8,429.7 681.4,432.3 680.2,435.0 679.1,437.7 678.2,440.3 677.5,443.0 677.0,445.6 676.7,448.2 676.6,450.7 676.7,453.0 677.0,455.2 677.5,457.2 678.2,459.1 679.1,460.7 680.2,462.2 681.4,463.4 682.8,464.4" fill="none"/><polygon points="682.8,464.4 681.4,463.4 680.2,462.2 679.1,460.7 678.2,459.1 677.5,457.2 677.0,455.2 676.7,453.0 676.6,450.7 676.7,448.2 677.0,445.6 677.5,443.0 678.2,440.3 679.1,437.7 680.2,435.0 681.4,432.3 682.8,429.7 684.4,427.2 686.0,424.8 687.8,422.6 689.7,420.5 691.7,418.5 693.7,416.8 695.7,415.2 697.8,413.9 699.9,412.8 701.9,412.0 704.0,411.4 705.9,411.1 707.8,411.0 709.6,411.2 711.3,411.7 712.8,412.4 748.7,433.2 750.1,434.1 751.4,435.4 752.5,436.8 753.3,438.5 754.0,440.3 754.5,442.4 754.8,444.6 755.0,446.9 754.8,449.4 754.5,451.9 754.0,454.5 753.3,457.2 752.4,459.9 751.4,462.6 750.1,465.2 748.7,467.8 747.2,470.3 745.5,472.7 743.7,475.0 741.9,477.1 739.9,479.0 737.9,480.8 735.8,482.3 733.7,483.6 731.7,484.7 729.6,485.6 727.6,486.1 725.6,486.5 723.7,486.5 722.0,486.3 720.3,485.9 718.7,485.1" fill="#fff"/><polygon points="718.7,485.1 720.3,485.9 722.0,486.3 723.7,486.5 725.6,486.5 727.6,486.1 729.6,485.6 731.7,484.7 733.7,483.6 735.8,482.3 737.9,480.8 739.9,479.0 741.9,477.1 743.7,475.0 745.5,472.7 747.2,470.3 748.7,467.8 750.1,465.2 751.4,462.6 752.4,459.9 753.3,457.2 754.0,454.5 754.5,451.9 754.8,449.4 755.0,446.9 754.8,444.6 754.5,442.4 754.0,440.3 753.3,438.5 752.5,436.8 751.4,435.4 750.1,434.1 748.7,433.2 747.2,432.4 745.5,432.0 743.7,431.8 741.9,431.8 739.9,432.2 737.9,432.7 735.8,433.6 733.8,434.7 731.7,436.0 729.6,437.5 727.6,439.3 725.6,441.2 723.8,443.3 722.0,445.6 720.3,448.0 718.8,450.5 717.4,453.1 716.1,455.7 715.0,458.4 714.2,461.1 713.5,463.8 712.9,466.4 712.6,468.9 712.5,471.4 712.6,473.7 712.9,475.9 713.4,478.0 714.1,479.8 715.0,481.5 716.1,482.9 717.3,484.2 718.7,485.1" fill="#fff"/><polyline points="724.8,480.6 726.0,481.1 727.3,481.5 728.7,481.6 730.1,481.6 731.6,481.3 733.2,480.9 734.7,480.3 736.3,479.4 737.9,478.4 739.5,477.2 741.1,475.9 742.6,474.4 744.0,472.8 745.4,471.0 746.7,469.2 747.8,467.3 748.9,465.3 749.9,463.3 750.7,461.2 751.4,459.2 751.9,457.1 752.3,455.1 752.5,453.1 752.6,451.3 752.5,449.5 752.3,447.8 751.9,446.2 751.4,444.8 750.7,443.5 749.9,442.4 748.9,441.5 747.8,440.7 746.7,440.2 745.4,439.8 744.0,439.7 742.6,439.7 741.1,440.0 739.5,440.4 737.9,441.0 736.3,441.9 734.8,442.9 733.2,444.1 731.6,445.4 730.1,446.9 728.7,448.5 727.3,450.3 726.0,452.1 724.8,454.0 723.8,456.0 722.8,458.0 722.0,460.1 721.3,462.1 720.8,464.2 720.4,466.2 720.2,468.2 720.1,470.0 720.2,471.8 720.4,473.5 720.8,475.1 721.3,476.5 722.0,477.8 722.8,478.9 723.8,479.8 724.8,480.6" fill="none"/></g><g fill="#fff" stroke="#000" stroke-width="1.0" stroke-linejoin="round" stroke-linecap="round"><polygon points="1667.6,314.9 1680.1,322.9 1658.1,310.2 1645.5,302.2" fill="#fff"/><polygon points="1720.6,252.9 1707.4,245.9 1685.3,233.2 1698.5,240.1" fill="#fff"/><polygon points="1648.0,336.6 1657.7,348.7 1635.6,336.0 1625.9,323.8" fill="#fff"/><polygon points="1731.7,220.5 1716.3,218.1 1694.2,205.4 1709.6,207.8" fill="#fff"/><polygon points="1738.3,188.9 1721.3,191.1 1699.2,178.3 1716.2,176.1" fill="#fff"/><polygon points="1627.0,354.4 1633.6,370.3 1611.5,357.5 1604.9,341.7" fill="#fff"/><polygon points="1605.5,367.7 1608.6,386.7 1586.5,373.9 1583.4,355.0" fill="#fff"/><polygon points="1740.0,159.0 1722.1,165.8 1700.0,153.0 1717.9,146.3" fill="#fff"/><polygon points="1584.2,376.0 1583.8,397.3 1561.7,384.6 1562.1,363.3" fill="#fff"/><polygon points="1736.9,132.2 1718.6,143.2 1696.5,130.5 1714.8,119.4" fill="#fff"/><polygon points="1564.0,379.0 1560.0,401.8 1538.0,389.1 1541.9,366.2" fill="#fff"/><polygon points="1728.9,109.4 1711.1,124.3 1689.0,111.5 1706.8,96.6" fill="#fff"/><polygon points="1716.5,91.5 1699.8,109.7 1677.7,96.9 1694.4,78.7" fill="#fff"/><polygon points="1545.7,376.5 1538.3,400.0 1516.2,387.3 1523.6,363.7" fill="#fff"/><polygon points="1700.0,79.2 1685.1,99.9 1663.0,87.2 1677.9,66.4" fill="#fff"/><polygon points="1530.0,368.6 1519.5,391.9 1497.4,379.2 1507.9,355.9" fill="#fff"/><polygon points="1685.1,99.9 1683.1,99.1 1681.1,98.4 1679.1,97.7 1657.0,85.0 1659.0,85.6 1661.0,86.4 1663.0,87.2" fill="#fff"/><polygon points="1525.0,364.5 1526.6,366.0 1528.3,367.3 1530.0,368.6 1507.9,355.9 1506.2,354.6 1504.5,353.2 1502.9,351.8" fill="#fff"/><polygon points="1686.5,74.2 1680.2,73.0 1658.1,60.2 1664.4,61.4" fill="#fff"/><polygon points="1504.2,377.9 1508.3,382.7 1486.2,369.9 1482.1,365.1" fill="#fff"/><polygon points="1680.2,73.0 1667.6,95.5 1645.5,82.7 1658.1,60.2" fill="#fff"/><polygon points="1517.4,355.7 1504.2,377.9 1482.1,365.1 1495.3,343.0" fill="#fff"/><polygon points="1667.6,95.5 1665.4,95.3 1663.1,95.2 1660.8,95.2 1638.7,82.5 1641.0,82.5 1643.3,82.6 1645.5,82.7" fill="#fff"/><polygon points="1513.7,349.9 1514.9,351.9 1516.1,353.9 1517.4,355.7 1495.3,343.0 1494.0,341.1 1492.8,339.2 1491.6,337.2" fill="#fff"/><polygon points="1664.8,72.4 1657.8,73.0 1635.7,60.3 1642.7,59.6" fill="#fff"/><polygon points="1493.0,358.4 1495.9,364.8 1473.8,352.1 1470.9,345.7" fill="#fff"/><polygon points="1508.4,338.3 1493.0,358.4 1470.9,345.7 1486.3,325.5" fill="#fff"/><polygon points="1657.8,73.0 1648.0,96.5 1625.9,83.7 1635.7,60.3" fill="#fff"/><polygon points="1648.0,96.5 1645.6,97.0 1643.1,97.5 1640.6,98.2 1618.5,85.4 1621.0,84.8 1623.5,84.2 1625.9,83.7" fill="#fff"/><polygon points="1506.2,331.0 1506.9,333.5 1507.6,335.9 1508.4,338.3 1486.3,325.5 1485.5,323.1 1484.8,320.7 1484.1,318.2" fill="#fff"/><polygon points="1627.1,102.9 1624.5,104.0 1621.9,105.2 1619.3,106.5 1597.2,93.7 1599.8,92.4 1602.4,91.2 1605.0,90.1" fill="#fff"/><polygon points="1502.7,308.4 1502.9,311.3 1503.2,314.1 1503.5,316.9 1481.4,304.1 1481.1,301.4 1480.8,298.5 1480.6,295.7" fill="#fff"/><polygon points="1633.7,79.4 1627.1,102.9 1605.0,90.1 1611.6,66.7" fill="#fff"/><polygon points="1503.5,316.9 1486.5,334.3 1464.4,321.6 1481.4,304.1" fill="#fff"/><polygon points="1641.0,76.9 1633.7,79.4 1611.6,66.7 1618.9,64.1" fill="#fff"/><polygon points="1486.5,334.3 1487.9,342.0 1465.8,329.3 1464.4,321.6" fill="#fff"/><polygon points="1605.5,114.4 1603.0,116.2 1600.4,117.9 1597.8,119.8 1575.7,107.0 1578.3,105.2 1580.9,103.4 1583.4,101.7" fill="#fff"/><polygon points="1503.5,283.1 1503.2,286.3 1502.9,289.4 1502.7,292.5 1480.6,279.7 1480.8,276.6 1481.1,273.5 1481.4,270.4" fill="#fff"/><polygon points="1608.7,91.9 1605.5,114.4 1583.4,101.7 1586.6,79.1" fill="#fff"/><polygon points="1502.7,292.5 1484.8,306.5 1462.7,293.7 1480.6,279.7" fill="#fff"/><polygon points="1616.2,87.5 1608.7,91.9 1586.6,79.1 1594.1,74.8" fill="#fff"/><polygon points="1484.8,306.5 1484.8,315.2 1462.7,302.4 1462.7,293.7" fill="#fff"/><polygon points="1584.3,130.7 1581.8,133.0 1579.3,135.3 1576.8,137.6 1554.7,124.8 1557.2,122.5 1559.7,120.2 1562.2,118.0" fill="#fff"/><polygon points="1508.5,256.1 1507.6,259.4 1506.9,262.7 1506.2,265.9 1484.1,253.2 1484.8,249.9 1485.5,246.6 1486.4,243.3" fill="#fff"/><polygon points="1583.9,109.9 1584.3,130.7 1562.2,118.0 1561.8,97.1" fill="#fff"/><polygon points="1506.2,265.9 1488.0,276.0 1465.9,263.2 1484.1,253.2" fill="#fff"/><polygon points="1564.1,151.1 1561.8,153.8 1559.5,156.5 1557.2,159.3 1535.1,146.5 1537.4,143.7 1539.7,141.0 1542.0,138.3" fill="#fff"/><polygon points="1517.4,228.3 1516.1,231.6 1514.9,234.9 1513.7,238.3 1491.6,225.5 1492.8,222.2 1494.0,218.8 1495.3,215.5" fill="#fff"/><polygon points="1591.2,103.9 1583.9,109.9 1561.8,97.1 1569.1,91.2" fill="#fff"/><polygon points="1488.0,276.0 1486.5,285.3 1464.4,272.6 1465.9,263.2" fill="#fff"/><polygon points="1545.8,174.7 1543.7,177.8 1541.7,180.8 1539.8,183.9 1517.7,171.1 1519.6,168.1 1521.6,165.0 1523.7,162.0" fill="#fff"/><polygon points="1530.0,200.8 1528.3,204.0 1526.7,207.3 1525.1,210.6 1503.0,197.8 1504.6,194.5 1506.2,191.3 1507.9,188.0" fill="#fff"/><polygon points="1560.1,132.8 1564.1,151.1 1542.0,138.3 1538.0,120.0" fill="#fff"/><polygon points="1513.7,238.3 1495.9,244.0 1473.8,231.2 1491.6,225.5" fill="#fff"/><polygon points="1538.4,159.7 1545.8,174.7 1523.7,162.0 1516.3,147.0" fill="#fff"/><polygon points="1525.1,210.6 1508.4,211.7 1486.3,198.9 1503.0,197.8" fill="#fff"/><polygon points="1567.1,125.5 1560.1,132.8 1538.0,120.0 1545.0,112.7" fill="#fff"/><polygon points="1495.9,244.0 1493.1,253.7 1471.0,240.9 1473.8,231.2" fill="#fff"/><polygon points="1539.8,183.9 1524.8,180.4 1502.7,167.6 1517.7,171.1" fill="#fff"/><polygon points="1519.5,189.6 1530.0,200.8 1507.9,188.0 1497.4,176.9" fill="#fff"/><polygon points="1544.7,151.3 1538.4,159.7 1516.3,147.0 1522.6,138.5" fill="#fff"/><polygon points="1508.4,211.7 1504.2,221.3 1482.1,208.6 1486.3,198.9" fill="#fff"/><polygon points="1524.8,180.4 1519.5,189.6 1497.4,176.9 1502.7,167.6" fill="#fff"/><polygon points="1519.5,391.9 1524.8,395.0 1539.7,374.3 1541.7,375.1 1543.7,375.8 1545.7,376.5 1538.3,400.0 1544.6,401.2 1557.2,378.7 1559.4,378.9 1561.7,379.0 1564.0,379.0 1560.0,401.8 1567.0,401.2 1576.8,377.7 1579.2,377.2 1581.7,376.7 1584.2,376.0 1583.8,397.3 1591.1,394.8 1597.7,371.3 1600.3,370.2 1602.9,369.0 1605.5,367.7 1608.6,386.7 1616.1,382.3 1619.3,359.8 1621.8,358.0 1624.4,356.3 1627.0,354.4 1633.6,370.3 1640.9,364.3 1640.5,343.5 1643.0,341.2 1645.5,338.9 1648.0,336.6 1657.7,348.7 1664.7,341.4 1660.7,323.1 1663.0,320.4 1665.3,317.7 1667.6,314.9 1680.1,322.9 1686.4,314.5 1679.0,299.5 1681.1,296.4 1683.1,293.4 1685.0,290.3 1700.0,293.8 1705.3,284.6 1694.8,273.4 1696.5,270.2 1698.1,266.9 1699.7,263.6 1716.4,262.5 1720.6,252.9 1707.4,245.9 1708.7,242.6 1709.9,239.3 1711.1,235.9 1728.9,230.2 1731.7,220.5 1716.3,218.1 1717.2,214.8 1717.9,211.5 1718.6,208.3 1736.8,198.2 1738.3,188.9 1721.3,191.1 1721.6,187.9 1721.9,184.8 1722.1,181.7 1740.0,167.7 1740.0,159.0 1722.1,165.8 1721.9,162.9 1721.6,160.1 1721.3,157.3 1738.3,139.9 1736.9,132.2 1718.6,143.2 1717.9,140.7 1717.2,138.3 1716.4,135.9 1731.8,115.8 1728.9,109.4 1711.1,124.3 1709.9,122.3 1708.7,120.3 1707.4,118.5 1720.6,96.3 1716.5,91.5 1699.8,109.7 1698.2,108.2 1696.5,106.9 1694.8,105.6 1705.3,82.3 1700.0,79.2 1685.1,99.9 1683.1,99.1 1681.1,98.4 1679.1,97.7 1686.5,74.2 1680.2,73.0 1667.6,95.5 1665.4,95.3 1663.1,95.2 1660.8,95.2 1664.8,72.4 1657.8,73.0 1648.0,96.5 1645.6,97.0 1643.1,97.5 1640.6,98.2 1641.0,76.9 1633.7,79.4 1627.1,102.9 1624.5,104.0 1621.9,105.2 1619.3,106.5 1616.2,87.5 1608.7,91.9 1605.5,114.4 1603.0,116.2 1600.4,117.9 1597.8,119.8 1591.2,103.9 1583.9,109.9 1584.3,130.7 1581.8,133.0 1579.3,135.3 1576.8,137.6 1567.1,125.5 1560.1,132.8 1564.1,151.1 1561.8,153.8 1559.5,156.5 1557.2,159.3 1544.7,151.3 1538.4,159.7 1545.8,174.7 1543.7,177.8 1541.7,180.8 1539.8,183.9 1524.8,180.4 1519.5,189.6 1530.0,200.8 1528.3,204.0 1526.7,207.3 1525.1,210.6 1508.4,211.7 1504.2,221.3 1517.4,228.3 1516.1,231.6 1514.9,234.9 1513.7,238.3 1495.9,244.0 1493.1,253.7 1508.5,256.1 1507.6,259.4 1506.9,262.7 1506.2,265.9 1488.0,276.0 1486.5,285.3 1503.5,283.1 1503.2,286.3 1502.9,289.4 1502.7,292.5 1484.8,306.5 1484.8,315.2 1502.7,308.4 1502.9,311.3 1503.2,314.1 1503.5,316.9 1486.5,334.3 1487.9,342.0 1506.2,331.0 1506.9,333.5 1507.6,335.9 1508.4,338.3 1493.0,358.4 1495.9,364.8 1513.7,349.9 1514.9,351.9 1516.1,353.9 1517.4,355.7 1504.2,377.9 1508.3,382.7 1525.0,364.5 1526.6,366.0 1528.3,367.3 1530.0,368.6" fill="#fff"/><polygon points="1652.7,138.5 1657.7,139.9 1668.5,141.4 1679.3,146.3 1689.1,154.2 1696.0,164.0 1700.0,173.8 1701.4,180.7 1701.9,181.2 1706.8,183.7 1704.9,229.9 1677.3,233.8 1667.5,229.9 1669.5,217.1 1668.5,199.4 1662.6,187.6 1651.8,180.7 1648.1,187.6 1650.4,194.4 1640.2,203.4 1623.3,209.1 1607.5,200.1 1602.9,193.3 1602.9,180.8 1618.8,157.1" fill="#fff"/><polyline points="1656.7,182.7 1665.6,189.6 1671.4,201.3 1673.4,217.1 1671.4,230.8" fill="none"/><polyline points="1671.4,197.4 1675.4,203.3 1677.3,217.1 1676.9,233.8" fill="none"/><polygon points="1671.4,197.4 1701.9,181.2 1706.8,183.7 1673.4,199.4" fill="#fff"/><polygon points="1673.4,199.4 1706.8,183.7 1704.9,229.9 1677.3,233.8 1677.3,217.1 1675.4,203.3" fill="#fff"/><polyline points="1658.3,140.2 1622.1,159.9 1607.5,183.1 1607.5,194.4 1623.3,202.3 1632.3,200.1 1648.1,187.6" fill="none"/><polygon points="1629.9,188.3 1631.4,188.9 1633.2,189.1 1635.2,188.8 1637.2,188.1 1639.4,187.0 1641.5,185.5 1643.6,183.7 1645.6,181.5 1647.5,179.0 1649.2,176.4 1650.7,173.6 1651.9,170.8 1652.8,168.0 1653.4,165.2 1653.7,162.6 1653.6,160.2 1653.2,158.1 1652.5,156.3 1651.4,154.8 1650.1,153.7 1648.6,153.1 1646.8,152.9 1644.8,153.2 1642.8,153.9 1640.6,155.0 1638.5,156.5 1636.4,158.3 1634.4,160.5 1632.5,163.0 1630.8,165.6 1629.3,168.4 1628.1,171.2 1627.2,174.0 1626.6,176.8 1626.3,179.4 1626.4,181.8 1626.8,183.9 1627.5,185.7 1628.6,187.2 1629.9,188.3" fill="#fff"/><polyline points="1634.9,187.0 1636.2,187.5 1637.6,187.7 1639.1,187.5 1640.8,186.9 1642.5,186.0 1644.2,184.8 1645.9,183.3 1647.5,181.6 1649.0,179.6 1650.4,177.5 1651.6,175.3 1652.5,173.1 1653.3,170.8 1653.7,168.6 1653.9,166.5 1653.9,164.6 1653.6,162.9 1653.0,161.4 1652.2,160.2 1651.1,159.4 1649.8,158.9 1648.4,158.7 1646.9,158.9 1645.2,159.5 1643.5,160.4 1641.8,161.6 1640.1,163.1 1638.5,164.8 1637.0,166.8 1635.6,168.9 1634.4,171.1 1633.5,173.3 1632.7,175.6 1632.3,177.8 1632.1,179.9 1632.1,181.8 1632.4,183.5 1633.0,185.0 1633.8,186.2 1634.9,187.0" fill="none"/><polygon points="1593.9,298.4 1599.5,299.5 1610.8,305.1 1618.8,306.3 1628.9,300.6 1640.2,290.5 1660.0,285.0 1662.0,305.0 1656.0,310.8 1639.1,325.5 1616.5,337.9 1598.4,346.9 1582.6,349.8 1572.4,342.4 1570.2,322.1 1579.2,310.8" fill="#fff"/><polyline points="1599.5,302.5 1582.0,312.0 1574.5,323.0 1576.5,341.0 1585.0,347.5 1598.0,344.0" fill="none"/><polygon points="1588.9,345.6 1590.5,346.3 1592.4,346.5 1594.4,346.2 1596.6,345.5 1598.8,344.3 1601.1,342.7 1603.3,340.8 1605.4,338.5 1607.4,335.9 1609.2,333.2 1610.7,330.3 1612.0,327.3 1613.0,324.3 1613.6,321.5 1613.9,318.7 1613.8,316.2 1613.4,313.9 1612.6,312.0 1611.5,310.5 1610.1,309.4 1608.5,308.7 1606.6,308.5 1604.6,308.8 1602.4,309.5 1600.2,310.7 1597.9,312.3 1595.7,314.2 1593.6,316.5 1591.6,319.1 1589.8,321.8 1588.3,324.7 1587.0,327.7 1586.0,330.7 1585.4,333.5 1585.1,336.3 1585.2,338.8 1585.6,341.1 1586.4,343.0 1587.5,344.5 1588.9,345.6" fill="#fff"/><polyline points="1593.1,331.0 1592.7,332.2 1592.4,333.5 1592.1,334.6 1592.0,335.8 1591.9,336.9 1591.9,338.0 1591.9,339.0 1592.0,340.0 1592.2,340.9 1592.5,341.7 1592.9,342.5 1593.3,343.1 1593.8,343.7 1594.3,344.2 1594.9,344.7 1595.6,345.0 1596.3,345.2 1597.0,345.3 1597.8,345.4 1598.6,345.3 1599.5,345.1 1600.4,344.9 1601.3,344.5 1602.2,344.1 1603.1,343.5 1604.1,342.9 1605.0,342.2 1605.9,341.4 1606.8,340.5 1607.7,339.6 1608.5,338.6 1609.4,337.6 1610.2,336.5 1610.9,335.3 1611.6,334.2 1612.2,333.0 1612.8,331.8 1613.3,330.5 1613.8,329.3 1614.2,328.1" fill="none"/><polygon points="1621.2,333.3 1621.9,333.6 1622.6,333.7 1623.4,333.6 1624.3,333.3 1625.2,332.8 1626.1,332.2 1627.0,331.4 1627.9,330.5 1628.7,329.4 1629.4,328.3 1630.0,327.1 1630.6,325.9 1630.9,324.7 1631.2,323.6 1631.3,322.4 1631.3,321.4 1631.1,320.5 1630.8,319.7 1630.4,319.1 1629.8,318.7 1629.1,318.4 1628.4,318.3 1627.6,318.4 1626.7,318.7 1625.8,319.2 1624.9,319.8 1624.0,320.6 1623.1,321.5 1622.3,322.6 1621.6,323.7 1621.0,324.9 1620.4,326.1 1620.1,327.3 1619.8,328.4 1619.7,329.6 1619.7,330.6 1619.9,331.5 1620.2,332.3 1620.6,332.9 1621.2,333.3" fill="#fff"/><polyline points="1624.0,332.2 1624.4,332.4 1625.0,332.4 1625.6,332.3 1626.2,332.1 1626.8,331.8 1627.5,331.4 1628.1,330.8 1628.7,330.1 1629.3,329.4 1629.8,328.6 1630.2,327.8 1630.6,326.9 1630.8,326.1 1631.0,325.3 1631.1,324.5 1631.1,323.8 1631.0,323.1 1630.7,322.6 1630.4,322.1 1630.0,321.8 1629.6,321.6 1629.0,321.6 1628.4,321.7 1627.8,321.9 1627.2,322.2 1626.5,322.6 1625.9,323.2 1625.3,323.9 1624.7,324.6 1624.2,325.4 1623.8,326.2 1623.4,327.1 1623.2,327.9 1623.0,328.7 1622.9,329.5 1622.9,330.2 1623.0,330.9 1623.3,331.4 1623.6,331.9 1624.0,332.2" fill="none"/><polygon points="1610.9,272.7 1609.4,271.7 1608.1,270.4 1607.0,268.9 1606.0,267.2 1605.3,265.2 1604.8,263.1 1604.4,260.7 1604.3,258.3 1604.5,255.7 1604.8,253.0 1605.3,250.2 1606.0,247.4 1607.0,244.6 1608.1,241.7 1609.4,239.0 1610.9,236.2 1612.5,233.6 1614.3,231.1 1616.2,228.7 1618.1,226.4 1620.2,224.4 1622.3,222.6 1624.5,220.9 1626.7,219.5 1628.9,218.4 1631.1,217.5 1633.2,216.9 1635.3,216.6 1637.2,216.5 1639.1,216.7 1640.9,217.2 1642.5,218.0 1700.6,251.5 1702.1,252.5 1703.4,253.8 1704.5,255.3 1705.5,257.1 1706.2,259.1 1706.7,261.2 1707.1,263.5 1707.2,266.0 1707.1,268.6 1706.7,271.3 1706.2,274.0 1705.5,276.9 1704.5,279.7 1703.4,282.5 1702.1,285.3 1700.6,288.0 1699.0,290.7 1697.2,293.2 1695.3,295.6 1693.4,297.8 1691.3,299.9 1689.2,301.7 1687.0,303.3 1684.8,304.7 1682.6,305.9 1680.4,306.7 1678.3,307.4 1676.3,307.7 1674.3,307.8 1672.4,307.5 1670.6,307.1 1669.0,306.3" fill="#fff"/><polygon points="1669.0,306.3 1670.6,307.1 1672.4,307.5 1674.3,307.8 1676.3,307.7 1678.3,307.4 1680.4,306.7 1682.6,305.9 1684.8,304.7 1687.0,303.3 1689.2,301.7 1691.3,299.9 1693.4,297.8 1695.3,295.6 1697.2,293.2 1699.0,290.7 1700.6,288.0 1702.1,285.3 1703.4,282.5 1704.5,279.7 1705.5,276.9 1706.2,274.0 1706.7,271.3 1707.1,268.6 1707.2,266.0 1707.1,263.5 1706.7,261.2 1706.2,259.1 1705.5,257.1 1704.5,255.3 1703.4,253.8 1702.1,252.5 1700.6,251.5 1699.0,250.8 1697.2,250.3 1695.4,250.1 1693.4,250.1 1691.3,250.5 1689.2,251.1 1687.0,251.9 1684.8,253.1 1682.6,254.5 1680.5,256.1 1678.3,258.0 1676.3,260.0 1674.3,262.2 1672.4,264.6 1670.6,267.1 1669.0,269.8 1667.5,272.5 1666.2,275.3 1665.1,278.1 1664.2,281.0 1663.4,283.8 1662.9,286.5 1662.6,289.2 1662.5,291.8 1662.6,294.3 1662.9,296.6 1663.4,298.8 1664.2,300.7 1665.1,302.5 1666.2,304.0 1667.5,305.3 1669.0,306.3" fill="#fff"/><polyline fill="none" points="1622.1,278.0 1622.7,272.4 1627.8,269.0 1632.3,270.7 1638.0,278.0 1639.7,289.3"/><polygon points="1658.0,325.3 1655.5,323.6 1653.3,321.4 1651.4,318.8 1649.8,315.9 1648.6,312.6 1647.6,308.9 1647.1,305.0 1646.9,300.8 1647.1,296.4 1647.7,291.8 1648.6,287.2 1649.8,282.4 1651.4,277.6 1653.3,272.8 1655.5,268.1 1658.0,263.4 1660.8,259.0 1663.8,254.7 1667.0,250.6 1670.3,246.9 1673.8,243.4 1677.4,240.3 1681.1,237.5 1684.8,235.2 1688.5,233.2 1692.2,231.7 1695.8,230.7 1699.3,230.1 1702.7,230.0 1705.9,230.4 1708.9,231.2 1711.6,232.5 1737.6,247.5 1740.1,249.2 1742.3,251.4 1744.2,254.0 1745.8,256.9 1747.1,260.3 1748.0,263.9 1748.5,267.8 1748.7,272.0 1748.5,276.4 1748.0,281.0 1747.1,285.7 1745.8,290.4 1744.2,295.2 1742.3,300.0 1740.1,304.8 1737.6,309.4 1734.8,313.9 1731.8,318.1 1728.7,322.2 1725.3,326.0 1721.8,329.4 1718.2,332.6 1714.5,335.3 1710.8,337.7 1707.1,339.6 1703.4,341.1 1699.8,342.1 1696.3,342.7 1692.9,342.8 1689.7,342.5 1686.8,341.6 1684.0,340.3" fill="#fff"/><polygon points="1684.0,340.3 1686.8,341.6 1689.7,342.5 1692.9,342.8 1696.3,342.7 1699.8,342.1 1703.4,341.1 1707.1,339.6 1710.8,337.7 1714.5,335.3 1718.2,332.6 1721.8,329.4 1725.3,326.0 1728.7,322.2 1731.8,318.1 1734.8,313.9 1737.6,309.4 1740.1,304.8 1742.3,300.0 1744.2,295.2 1745.8,290.4 1747.1,285.7 1748.0,281.0 1748.5,276.4 1748.7,272.0 1748.5,267.8 1748.0,263.9 1747.1,260.3 1745.8,256.9 1744.2,254.0 1742.3,251.4 1740.1,249.2 1737.6,247.5 1734.9,246.2 1731.9,245.4 1728.7,245.0 1725.3,245.1 1721.8,245.7 1718.2,246.7 1714.5,248.2 1710.8,250.2 1707.1,252.5 1703.4,255.3 1699.8,258.4 1696.3,261.9 1693.0,265.6 1689.8,269.7 1686.8,274.0 1684.0,278.5 1681.5,283.1 1679.3,287.8 1677.4,292.6 1675.8,297.4 1674.6,302.2 1673.6,306.8 1673.1,311.4 1672.9,315.8 1673.1,320.0 1673.6,323.9 1674.5,327.6 1675.8,330.9 1677.4,333.8 1679.3,336.4 1681.5,338.6 1684.0,340.3" fill="#fff"/><polygon points="1691.0,328.3 1689.1,327.0 1687.5,325.4 1686.1,323.5 1684.9,321.3 1684.0,318.8 1683.3,316.1 1682.9,313.2 1682.8,310.1 1682.9,306.9 1683.3,303.5 1684.0,300.0 1684.9,296.5 1686.1,292.9 1687.5,289.4 1689.1,285.9 1691.0,282.5 1693.0,279.2 1695.2,276.0 1697.6,273.0 1700.1,270.2 1702.7,267.6 1705.3,265.3 1708.1,263.3 1710.8,261.5 1713.6,260.1 1716.3,259.0 1719.0,258.2 1721.5,257.8 1724.0,257.7 1726.4,258.0 1728.6,258.6 1730.6,259.6 1732.5,260.6 1734.3,261.9 1736.0,263.5 1737.4,265.4 1738.6,267.6 1739.5,270.1 1740.2,272.8 1740.6,275.7 1740.7,278.8 1740.6,282.0 1740.2,285.4 1739.5,288.9 1738.6,292.4 1737.4,296.0 1736.0,299.5 1734.3,303.0 1732.5,306.4 1730.4,309.7 1728.2,312.9 1725.9,315.9 1723.4,318.7 1720.8,321.3 1718.1,323.6 1715.4,325.6 1712.7,327.4 1709.9,328.8 1707.2,329.9 1704.5,330.7 1701.9,331.1 1699.4,331.2 1697.1,330.9 1694.9,330.3 1692.8,329.3" fill="#fff"/><polygon points="1692.8,329.3 1694.9,330.3 1697.1,330.9 1699.4,331.2 1701.9,331.1 1704.5,330.7 1707.2,329.9 1709.9,328.8 1712.7,327.4 1715.4,325.6 1718.1,323.6 1720.8,321.3 1723.4,318.7 1725.9,315.9 1728.2,312.9 1730.4,309.7 1732.5,306.4 1734.3,303.0 1736.0,299.5 1737.4,296.0 1738.6,292.4 1739.5,288.9 1740.2,285.4 1740.6,282.0 1740.7,278.8 1740.6,275.7 1740.2,272.8 1739.5,270.1 1738.6,267.6 1737.4,265.4 1736.0,263.5 1734.3,261.9 1732.5,260.6 1730.5,259.7 1728.2,259.1 1725.9,258.8 1723.4,258.9 1720.8,259.3 1718.1,260.1 1715.4,261.2 1712.7,262.6 1709.9,264.4 1707.2,266.4 1704.5,268.7 1701.9,271.3 1699.5,274.1 1697.1,277.1 1694.9,280.2 1692.8,283.5 1691.0,287.0 1689.4,290.5 1687.9,294.0 1686.8,297.6 1685.8,301.1 1685.2,304.6 1684.8,307.9 1684.6,311.2 1684.8,314.3 1685.2,317.2 1685.8,319.9 1686.8,322.3 1687.9,324.5 1689.3,326.4 1691.0,328.1 1692.8,329.3" fill="#fff"/><polygon points="1696.0,323.8 1694.5,322.7 1693.1,321.3 1691.9,319.7 1691.0,317.9 1690.2,315.8 1689.6,313.6 1689.3,311.2 1689.2,308.6 1689.3,305.8 1689.6,303.0 1690.2,300.1 1691.0,297.1 1692.0,294.2 1693.1,291.2 1694.5,288.3 1696.1,285.4 1697.8,282.6 1699.6,280.0 1701.6,277.5 1703.7,275.1 1705.9,273.0 1708.1,271.0 1710.4,269.3 1712.7,267.9 1715.0,266.7 1717.3,265.7 1719.5,265.1 1721.7,264.7 1723.7,264.7 1725.7,264.9 1727.6,265.4 1729.3,266.2 1797.1,305.3 1798.6,306.4 1800.0,307.8 1801.2,309.4 1802.1,311.2 1802.9,313.3 1803.5,315.5 1803.8,318.0 1803.9,320.5 1803.8,323.3 1803.5,326.1 1802.9,329.0 1802.1,332.0 1801.2,334.9 1800.0,337.9 1798.6,340.8 1797.0,343.7 1795.3,346.5 1793.5,349.1 1791.5,351.6 1789.4,354.0 1787.2,356.1 1785.0,358.1 1782.7,359.8 1780.4,361.2 1778.1,362.4 1775.8,363.4 1773.6,364.0 1771.4,364.4 1769.4,364.4 1767.4,364.2 1765.5,363.7 1763.8,362.9" fill="#fff"/><polygon points="1763.8,362.9 1765.5,363.7 1767.4,364.2 1769.4,364.4 1771.4,364.4 1773.6,364.0 1775.8,363.4 1778.1,362.4 1780.4,361.2 1782.7,359.8 1785.0,358.1 1787.2,356.1 1789.4,354.0 1791.5,351.6 1793.5,349.1 1795.3,346.5 1797.0,343.7 1798.6,340.8 1800.0,337.9 1801.2,334.9 1802.1,332.0 1802.9,329.0 1803.5,326.1 1803.8,323.3 1803.9,320.5 1803.8,318.0 1803.5,315.5 1802.9,313.3 1802.1,311.2 1801.2,309.4 1800.0,307.8 1798.6,306.4 1797.1,305.3 1795.3,304.5 1793.5,304.0 1791.5,303.8 1789.4,303.9 1787.3,304.2 1785.0,304.9 1782.7,305.8 1780.4,307.0 1778.1,308.4 1775.9,310.2 1773.6,312.1 1771.5,314.2 1769.4,316.6 1767.4,319.1 1765.5,321.8 1763.8,324.5 1762.3,327.4 1760.9,330.3 1759.7,333.3 1758.7,336.3 1758.0,339.2 1757.4,342.1 1757.1,345.0 1756.9,347.7 1757.1,350.3 1757.4,352.7 1758.0,355.0 1758.7,357.0 1759.7,358.9 1760.9,360.5 1762.3,361.8 1763.8,362.9" fill="#fff"/><polygon points="1737.3,343.1 1737.5,341.6 1737.9,340.1 1738.5,338.5 1739.3,337.1 1740.2,335.6 1741.2,334.4 1769.3,305.2 1772.0,302.6 1774.8,300.3 1777.6,298.3 1780.5,296.5 1783.3,295.0 1786.1,293.8 1788.9,292.9 1791.6,292.3 1794.2,292.1 1796.7,292.1 1799.1,292.5 1801.4,293.2 1803.5,294.2 1824.8,306.5 1826.8,307.8 1828.5,309.4 1830.0,311.3 1831.3,313.5 1832.4,315.9 1833.3,318.5 1833.9,321.4 1834.2,324.4 1834.4,327.6 1834.2,331.0 1833.9,334.4 1833.3,338.0 1832.4,341.6 1831.3,345.3 1830.0,349.0 1828.5,352.6 1826.7,356.2 1824.8,359.7 1822.7,363.2 1820.5,366.5 1818.1,369.6 1815.5,372.6 1812.9,375.4 1810.2,377.9 1807.4,380.2 1804.6,382.3 1801.8,384.1 1798.9,385.6 1796.1,386.8 1793.3,387.7 1790.6,388.2 1788.0,388.5 1785.5,388.4 1783.1,388.1 1780.8,387.4 1778.7,386.4 1757.4,374.0 1755.5,372.7 1753.7,371.1 1752.2,369.2 1737.9,346.7 1737.5,345.7 1737.3,344.4" fill="#fff"/><polygon points="1824.8,306.5 1822.7,305.5 1820.5,304.8 1818.1,304.4 1815.6,304.4 1812.9,304.6 1810.2,305.2 1807.5,306.1 1804.6,307.3 1801.8,308.8 1799.0,310.6 1796.1,312.7 1793.4,315.0 1790.7,317.5 1762.6,346.7 1761.6,348.0 1760.7,349.4 1759.9,350.9 1759.3,352.4 1758.9,353.9 1758.7,355.4 1758.7,356.8 1758.9,358.0 1759.3,359.1 1773.6,381.6 1775.1,383.4 1776.8,385.1 1778.7,386.4 1780.8,387.4 1783.1,388.1 1785.5,388.4 1788.0,388.5 1790.6,388.2 1793.3,387.7 1796.1,386.8 1798.9,385.6 1801.8,384.1 1804.6,382.3 1807.4,380.2 1810.2,377.9 1812.9,375.4 1815.6,372.6 1818.1,369.6 1820.5,366.5 1822.7,363.2 1824.8,359.7 1826.7,356.2 1828.5,352.6 1830.0,349.0 1831.3,345.3 1832.4,341.6 1833.3,338.0 1833.9,334.4 1834.2,331.0 1834.4,327.6 1834.3,324.4 1833.9,321.4 1833.3,318.5 1832.4,315.9 1831.3,313.5 1830.0,311.3 1828.5,309.4 1826.8,307.8" fill="#fff"/><polygon points="1786.8,372.4 1785.4,371.5 1784.1,370.2 1783.1,368.8 1782.2,367.1 1781.5,365.3 1781.0,363.2 1780.7,361.0 1780.6,358.7 1780.7,356.2 1781.0,353.7 1781.5,351.1 1782.2,348.4 1783.1,345.7 1784.2,343.0 1785.4,340.4 1786.8,337.8 1788.3,335.3 1790.0,332.9 1791.8,330.6 1793.7,328.5 1795.6,326.6 1797.7,324.8 1799.7,323.3 1801.8,321.9 1803.9,320.9 1805.9,320.0 1808.0,319.4 1809.9,319.1 1811.8,319.1 1813.6,319.3 1815.3,319.7 1816.8,320.4 1844.6,336.5 1846.0,337.5 1847.3,338.7 1848.4,340.2 1849.2,341.8 1849.9,343.7 1850.5,345.7 1850.8,347.9 1850.9,350.3 1850.8,352.7 1850.4,355.3 1849.9,357.9 1849.2,360.6 1848.4,363.3 1847.3,365.9 1846.0,368.6 1844.6,371.2 1843.1,373.7 1841.4,376.1 1839.6,378.4 1837.8,380.5 1835.8,382.4 1833.8,384.2 1831.7,385.7 1829.6,387.0 1827.6,388.1 1825.5,388.9 1823.5,389.5 1821.5,389.9 1819.6,389.9 1817.8,389.7 1816.2,389.2 1814.6,388.5" fill="#fff"/><polygon points="1814.6,388.5 1816.2,389.2 1817.8,389.7 1819.6,389.9 1821.5,389.9 1823.5,389.5 1825.5,388.9 1827.6,388.1 1829.6,387.0 1831.7,385.7 1833.8,384.2 1835.8,382.4 1837.8,380.5 1839.6,378.4 1841.4,376.1 1843.1,373.7 1844.6,371.2 1846.0,368.6 1847.3,365.9 1848.4,363.3 1849.2,360.6 1849.9,357.9 1850.4,355.3 1850.8,352.7 1850.9,350.3 1850.8,347.9 1850.5,345.7 1849.9,343.7 1849.2,341.8 1848.4,340.2 1847.3,338.7 1846.0,337.5 1844.6,336.5 1843.1,335.8 1841.4,335.3 1839.6,335.1 1837.8,335.2 1835.8,335.5 1833.8,336.1 1831.7,336.9 1829.6,338.0 1827.6,339.3 1825.5,340.9 1823.5,342.6 1821.5,344.6 1819.6,346.7 1817.9,349.0 1816.2,351.4 1814.6,353.9 1813.2,356.5 1812.0,359.1 1810.9,361.8 1810.0,364.5 1809.3,367.1 1808.8,369.8 1808.5,372.3 1808.4,374.8 1808.5,377.1 1808.8,379.3 1809.3,381.4 1810.0,383.2 1810.9,384.9 1812.0,386.3 1813.2,387.5 1814.6,388.5" fill="#fff"/><polygon points="1806.6,402.4 1804.4,400.9 1802.5,399.1 1800.9,396.9 1799.5,394.3 1798.5,391.5 1797.7,388.3 1797.2,384.9 1797.1,381.3 1797.2,377.6 1797.7,373.6 1798.5,369.6 1799.5,365.5 1800.9,361.4 1802.6,357.3 1804.5,353.2 1806.6,349.2 1809.0,345.4 1811.5,341.7 1814.3,338.2 1817.2,335.0 1820.2,332.0 1823.3,329.3 1826.5,326.9 1829.7,324.9 1832.8,323.2 1836.0,321.9 1839.1,321.0 1842.1,320.6 1845.0,320.5 1847.8,320.8 1850.3,321.5 1852.7,322.6 1870.3,332.8 1872.5,334.3 1874.4,336.1 1876.0,338.4 1877.4,340.9 1878.5,343.8 1879.2,346.9 1879.7,350.3 1879.9,353.9 1879.7,357.7 1879.2,361.6 1878.5,365.6 1877.4,369.7 1876.0,373.8 1874.4,378.0 1872.5,382.0 1870.3,386.0 1867.9,389.9 1865.4,393.5 1862.6,397.0 1859.7,400.3 1856.7,403.3 1853.6,405.9 1850.5,408.3 1847.3,410.3 1844.1,412.0 1840.9,413.3 1837.8,414.2 1834.8,414.7 1831.9,414.8 1829.2,414.5 1826.6,413.7 1824.2,412.6" fill="#fff"/><polygon points="1824.2,412.6 1826.6,413.7 1829.2,414.5 1831.9,414.8 1834.8,414.7 1837.8,414.2 1840.9,413.3 1844.1,412.0 1847.3,410.3 1850.5,408.3 1853.6,405.9 1856.7,403.3 1859.7,400.3 1862.6,397.0 1865.4,393.5 1867.9,389.9 1870.3,386.0 1872.5,382.0 1874.4,378.0 1876.0,373.8 1877.4,369.7 1878.5,365.6 1879.2,361.6 1879.7,357.7 1879.9,353.9 1879.7,350.3 1879.2,346.9 1878.5,343.8 1877.4,340.9 1876.0,338.4 1874.4,336.1 1872.5,334.3 1870.3,332.8 1868.0,331.7 1865.4,331.0 1862.6,330.6 1859.8,330.7 1856.7,331.2 1853.6,332.1 1850.5,333.4 1847.3,335.1 1844.1,337.1 1840.9,339.5 1837.8,342.2 1834.8,345.1 1831.9,348.4 1829.2,351.9 1826.6,355.6 1824.2,359.4 1822.1,363.4 1820.2,367.5 1818.5,371.6 1817.2,375.7 1816.1,379.8 1815.3,383.8 1814.9,387.8 1814.7,391.5 1814.9,395.1 1815.3,398.5 1816.1,401.6 1817.2,404.5 1818.5,407.0 1820.2,409.3 1822.1,411.1 1824.2,412.6" fill="#fff"/><polyline points="1831.2,400.6 1832.9,401.3 1834.6,401.8 1836.6,402.1 1838.6,402.0 1840.7,401.6 1842.8,401.0 1845.0,400.1 1847.3,399.0 1849.5,397.5 1851.7,395.9 1853.9,394.0 1856.0,391.9 1858.0,389.7 1859.9,387.2 1861.7,384.7 1863.4,382.0 1864.8,379.2 1866.2,376.4 1867.3,373.5 1868.3,370.6 1869.0,367.8 1869.6,364.9 1869.9,362.2 1870.0,359.6 1869.9,357.1 1869.6,354.7 1869.0,352.5 1868.3,350.5 1867.3,348.7 1866.2,347.2 1864.9,345.9 1863.4,344.9 1861.7,344.1 1859.9,343.6 1858.0,343.4 1856.0,343.4 1853.9,343.8 1851.7,344.4 1849.5,345.3 1847.3,346.5 1845.1,347.9 1842.9,349.5 1840.7,351.4 1838.6,353.5 1836.6,355.7 1834.7,358.2 1832.9,360.7 1831.2,363.4 1829.7,366.2 1828.4,369.0 1827.2,371.9 1826.3,374.8 1825.5,377.7 1825.0,380.5 1824.7,383.2 1824.5,385.8 1824.7,388.4 1825.0,390.7 1825.5,392.9 1826.3,394.9 1827.2,396.7 1828.4,398.2 1829.7,399.5 1831.2,400.6" fill="none"/><polygon points="1831.2,400.6 1829.7,399.5 1828.4,398.2 1827.2,396.7 1826.3,394.9 1825.5,392.9 1825.0,390.7 1824.7,388.4 1824.5,385.8 1824.7,383.2 1825.0,380.5 1825.5,377.7 1826.3,374.8 1827.2,371.9 1828.4,369.0 1829.7,366.2 1831.2,363.4 1832.9,360.7 1834.7,358.2 1836.6,355.7 1838.6,353.5 1840.7,351.4 1842.9,349.5 1845.1,347.9 1847.3,346.5 1849.5,345.3 1851.7,344.4 1853.9,343.8 1856.0,343.4 1858.0,343.4 1859.9,343.6 1861.7,344.1 1863.4,344.9 1901.9,367.1 1903.4,368.1 1904.7,369.4 1905.9,371.0 1906.8,372.8 1907.6,374.8 1908.1,376.9 1908.4,379.3 1908.5,381.8 1908.4,384.5 1908.1,387.2 1907.6,390.0 1906.8,392.9 1905.9,395.7 1904.7,398.6 1903.4,401.5 1901.9,404.2 1900.2,406.9 1898.4,409.5 1896.5,411.9 1894.5,414.2 1892.4,416.3 1890.2,418.1 1888.0,419.8 1885.8,421.2 1883.6,422.4 1881.4,423.3 1879.2,423.9 1877.1,424.2 1875.1,424.3 1873.2,424.1 1871.4,423.6 1869.7,422.8" fill="#fff"/><polygon points="1869.7,422.8 1871.4,423.6 1873.2,424.1 1875.1,424.3 1877.1,424.2 1879.2,423.9 1881.4,423.3 1883.6,422.4 1885.8,421.2 1888.0,419.8 1890.2,418.1 1892.4,416.3 1894.5,414.2 1896.5,411.9 1898.4,409.5 1900.2,406.9 1901.9,404.2 1903.4,401.5 1904.7,398.6 1905.9,395.7 1906.8,392.9 1907.6,390.0 1908.1,387.2 1908.4,384.5 1908.5,381.8 1908.4,379.3 1908.1,376.9 1907.6,374.8 1906.8,372.8 1905.9,371.0 1904.7,369.4 1903.4,368.1 1901.9,367.1 1900.2,366.3 1898.4,365.8 1896.5,365.6 1894.5,365.7 1892.4,366.0 1890.2,366.6 1888.0,367.5 1885.8,368.7 1883.6,370.1 1881.4,371.8 1879.2,373.6 1877.1,375.7 1875.1,378.0 1873.2,380.4 1871.4,383.0 1869.7,385.7 1868.2,388.4 1866.9,391.3 1865.8,394.2 1864.8,397.0 1864.1,399.9 1863.5,402.7 1863.2,405.4 1863.1,408.1 1863.2,410.6 1863.5,413.0 1864.1,415.1 1864.8,417.1 1865.8,418.9 1866.9,420.5 1868.2,421.8 1869.7,422.8" fill="#fff"/><polyline points="1876.3,417.9 1877.5,418.5 1878.9,418.9 1880.4,419.1 1881.9,419.0 1883.5,418.7 1885.2,418.3 1886.9,417.6 1888.6,416.7 1890.3,415.6 1892.0,414.3 1893.6,412.9 1895.3,411.3 1896.8,409.6 1898.3,407.7 1899.6,405.7 1900.9,403.7 1902.1,401.5 1903.1,399.4 1904.0,397.2 1904.7,395.0 1905.3,392.8 1905.7,390.6 1905.9,388.5 1906.0,386.5 1905.9,384.6 1905.7,382.8 1905.3,381.1 1904.7,379.6 1904.0,378.2 1903.1,377.0 1902.1,376.0 1900.9,375.2 1899.7,374.6 1898.3,374.2 1896.8,374.1 1895.3,374.1 1893.7,374.4 1892.0,374.9 1890.3,375.5 1888.6,376.4 1886.9,377.5 1885.2,378.8 1883.5,380.2 1881.9,381.8 1880.4,383.6 1878.9,385.4 1877.5,387.4 1876.3,389.4 1875.1,391.6 1874.1,393.7 1873.2,396.0 1872.5,398.2 1871.9,400.4 1871.5,402.5 1871.2,404.6 1871.2,406.6 1871.2,408.6 1871.5,410.4 1871.9,412.0 1872.5,413.6 1873.2,414.9 1874.1,416.1 1875.1,417.1 1876.3,417.9" fill="none"/></g><g fill="#fff" stroke="#000" stroke-width="1.0" stroke-linejoin="round"><polygon points="1562.9,460.3 1627.2,423.2 1630.6,423.2 1636.3,429.3 1637.5,432.8 1637.5,436.8 1635.1,438.2 1572.3,474.8 1570.8,475.8" fill="#fff"/><polygon points="1557.2,464.2 1559.9,461.5 1565.3,461.2 1569.8,465.0 1572.3,471.9 1570.8,475.8 1567.8,477.8 1563.4,477.8 1558.9,473.4 1557.2,469.4" fill="#fff"/><polyline points="1559.4,466.0 1561.9,464.2 1566.3,468.4 1567.8,472.4 1567.3,475.3 1563.4,475.6 1559.4,471.4 1559.4,466.0" fill="none"/><polyline points="1563.0,461.5 1569.0,468.0 1571.0,476.0" fill="none"/><polygon points="1528.5,543.5 1528.5,540.2 1530.4,538.6 1530.4,534.0 1527.1,530.3 1525.2,526.4 1524.5,523.1 1524.5,513.5 1527.1,509.6 1529.5,508.2 1534.7,508.2 1538.7,510.6 1545.3,517.5 1549.2,524.4 1550.6,527.4 1550.6,538.6 1548.2,541.2 1546.3,542.5 1546.6,546.8 1548.2,550.8 1547.6,552.4 1545.3,552.4 1544.3,547.5 1543.3,541.2 1546.3,538.6 1547.9,533.6 1548.2,529.0 1547.3,526.4 1543.0,519.8 1539.0,515.5 1535.7,513.5 1530.1,513.5 1527.5,517.1 1527.5,522.7 1528.5,526.4 1533.4,535.6 1532.4,539.6 1531.1,541.9 1528.8,542.5" fill="none"/></g></svg>
<div class="t b" style="left:243.0px;top:308.5px;font-size:50px;line-height:60px;height:60px;letter-spacing:0px">46</div>
<div class="t b" style="left:1329.5px;top:45.0px;font-size:50px;line-height:60px;height:60px;letter-spacing:1.0px">46A</div>
<div class="t b" style="left:1456.0px;top:433.0px;font-size:50px;line-height:60px;height:60px;letter-spacing:0.0px"><span class="o">1</span>0<span class="o">1</span></div>
<div class="t b" style="left:1396.0px;top:513.0px;font-size:50px;line-height:60px;height:60px;letter-spacing:0.0px"><span class="o">1</span>05<span class="o">1</span></div>
</body></html>
